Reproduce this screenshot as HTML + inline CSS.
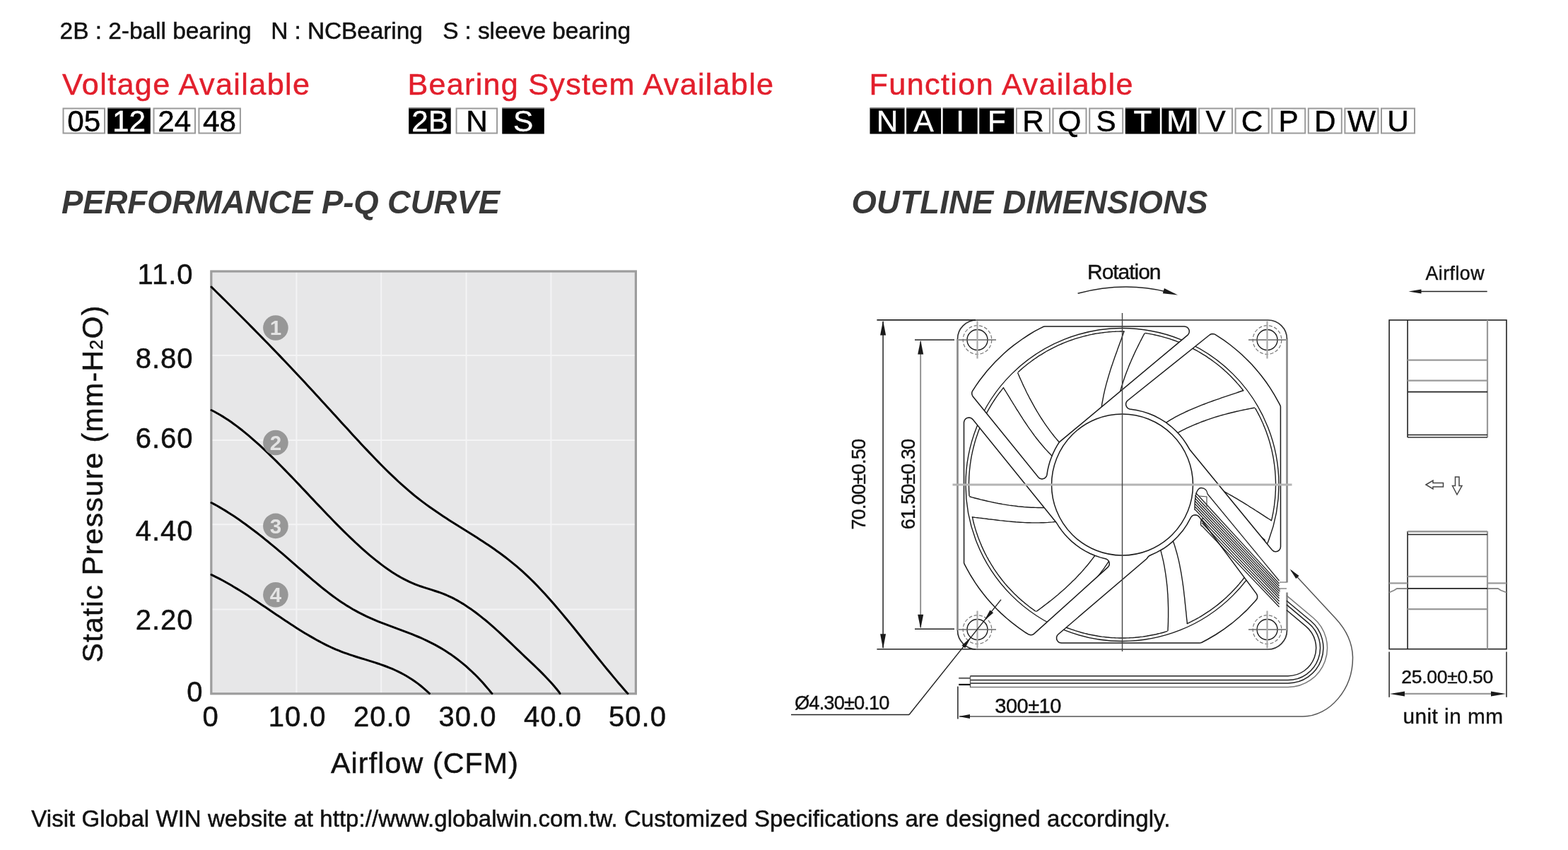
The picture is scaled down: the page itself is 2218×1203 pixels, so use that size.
<!DOCTYPE html>
<html><head><meta charset="utf-8"><title>Fan spec</title>
<style>
html,body{margin:0;padding:0;background:#fff;}
body{width:2218px;height:1203px;overflow:hidden;}
svg{display:block;}
text{font-family:"Liberation Sans", Arial, Helvetica, sans-serif;}
text.w{stroke:currentColor;}
</style></head><body>
<svg width="2218" height="1203" viewBox="0 0 2218 1203">
<rect width="2218" height="1203" fill="#fff"/>
<text x="84.6" y="54.7" font-size="33.5" fill="#111" text-anchor="start" font-weight="normal" font-style="normal" textLength="271" lengthAdjust="spacing" stroke="#111" stroke-width="0.5" >2B : 2-ball bearing</text>
<text x="383.3" y="54.7" font-size="33.5" fill="#111" text-anchor="start" font-weight="normal" font-style="normal" textLength="214.5" lengthAdjust="spacing" stroke="#111" stroke-width="0.5" >N : NCBearing</text>
<text x="626.2" y="54.7" font-size="33.5" fill="#111" text-anchor="start" font-weight="normal" font-style="normal" textLength="266" lengthAdjust="spacing" stroke="#111" stroke-width="0.5" >S : sleeve bearing</text>
<text x="88" y="134.3" font-size="43.2" fill="#e21f2c" text-anchor="start" font-weight="normal" font-style="normal" textLength="350" lengthAdjust="spacing" stroke="#e21f2c" stroke-width="0.5" >Voltage Available</text>
<text x="576.5" y="134.3" font-size="43.2" fill="#e21f2c" text-anchor="start" font-weight="normal" font-style="normal" textLength="517.5" lengthAdjust="spacing" stroke="#e21f2c" stroke-width="0.5" >Bearing System Available</text>
<text x="1229.5" y="134.3" font-size="43.2" fill="#e21f2c" text-anchor="start" font-weight="normal" font-style="normal" textLength="373" lengthAdjust="spacing" stroke="#e21f2c" stroke-width="0.5" >Function Available</text>
<rect x="89.5" y="153.5" width="58.5" height="35" fill="#fff" stroke="#9a9a9a" stroke-width="2"/>
<text x="118.8" y="185.5" font-size="42.3" fill="#000" stroke="#000" stroke-width="0.45" text-anchor="middle">05</text>
<rect x="152.3" y="152.5" width="60.5" height="37" fill="#000"/>
<line x1="152.3" y1="153.1" x2="212.8" y2="153.1" stroke="#888" stroke-width="1.2"/>
<text x="182.6" y="185.5" font-size="42.3" fill="#fff" stroke="#fff" stroke-width="0.45" text-anchor="middle">12</text>
<rect x="217.5" y="153.5" width="58.5" height="35" fill="#fff" stroke="#9a9a9a" stroke-width="2"/>
<text x="246.8" y="185.5" font-size="42.3" fill="#000" stroke="#000" stroke-width="0.45" text-anchor="middle">24</text>
<rect x="281.4" y="153.5" width="58.5" height="35" fill="#fff" stroke="#9a9a9a" stroke-width="2"/>
<text x="310.6" y="185.5" font-size="42.3" fill="#000" stroke="#000" stroke-width="0.45" text-anchor="middle">48</text>
<rect x="578.2" y="152.5" width="59.5" height="37" fill="#000"/>
<line x1="578.2" y1="153.1" x2="637.7" y2="153.1" stroke="#888" stroke-width="1.2"/>
<text x="608.0" y="185.5" font-size="42.3" fill="#fff" stroke="#fff" stroke-width="0.45" text-anchor="middle">2B</text>
<rect x="645.6" y="153.5" width="57.5" height="35" fill="#fff" stroke="#9a9a9a" stroke-width="2"/>
<text x="674.4" y="185.5" font-size="42.3" fill="#000" stroke="#000" stroke-width="0.45" text-anchor="middle">N</text>
<rect x="710.3" y="152.5" width="59.5" height="37" fill="#000"/>
<line x1="710.3" y1="153.1" x2="769.8" y2="153.1" stroke="#888" stroke-width="1.2"/>
<text x="740.0" y="185.5" font-size="42.3" fill="#fff" stroke="#fff" stroke-width="0.45" text-anchor="middle">S</text>
<rect x="1230.5" y="152.5" width="49" height="37" fill="#000"/>
<line x1="1230.5" y1="153.1" x2="1279.5" y2="153.1" stroke="#888" stroke-width="1.2"/>
<text x="1255.0" y="185.5" font-size="42.3" fill="#fff" stroke="#fff" stroke-width="0.45" text-anchor="middle">N</text>
<rect x="1282.1" y="152.5" width="49" height="37" fill="#000"/>
<line x1="1282.1" y1="153.1" x2="1331.1" y2="153.1" stroke="#888" stroke-width="1.2"/>
<text x="1306.6" y="185.5" font-size="42.3" fill="#fff" stroke="#fff" stroke-width="0.45" text-anchor="middle">A</text>
<rect x="1333.7" y="152.5" width="49" height="37" fill="#000"/>
<line x1="1333.7" y1="153.1" x2="1382.7" y2="153.1" stroke="#888" stroke-width="1.2"/>
<text x="1358.2" y="185.5" font-size="42.3" fill="#fff" stroke="#fff" stroke-width="0.45" text-anchor="middle">I</text>
<rect x="1385.3" y="152.5" width="49" height="37" fill="#000"/>
<line x1="1385.3" y1="153.1" x2="1434.3" y2="153.1" stroke="#888" stroke-width="1.2"/>
<text x="1409.8" y="185.5" font-size="42.3" fill="#fff" stroke="#fff" stroke-width="0.45" text-anchor="middle">F</text>
<rect x="1437.9" y="153.5" width="47" height="35" fill="#fff" stroke="#9a9a9a" stroke-width="2"/>
<text x="1461.4" y="185.5" font-size="42.3" fill="#000" stroke="#000" stroke-width="0.45" text-anchor="middle">R</text>
<rect x="1489.5" y="153.5" width="47" height="35" fill="#fff" stroke="#9a9a9a" stroke-width="2"/>
<text x="1513.0" y="185.5" font-size="42.3" fill="#000" stroke="#000" stroke-width="0.45" text-anchor="middle">Q</text>
<rect x="1541.2" y="153.5" width="47" height="35" fill="#fff" stroke="#9a9a9a" stroke-width="2"/>
<text x="1564.7" y="185.5" font-size="42.3" fill="#000" stroke="#000" stroke-width="0.45" text-anchor="middle">S</text>
<rect x="1591.8" y="152.5" width="49" height="37" fill="#000"/>
<line x1="1591.8" y1="153.1" x2="1640.8" y2="153.1" stroke="#888" stroke-width="1.2"/>
<text x="1616.3" y="185.5" font-size="42.3" fill="#fff" stroke="#fff" stroke-width="0.45" text-anchor="middle">T</text>
<rect x="1643.4" y="152.5" width="49" height="37" fill="#000"/>
<line x1="1643.4" y1="153.1" x2="1692.4" y2="153.1" stroke="#888" stroke-width="1.2"/>
<text x="1667.9" y="185.5" font-size="42.3" fill="#fff" stroke="#fff" stroke-width="0.45" text-anchor="middle">M</text>
<rect x="1696.0" y="153.5" width="47" height="35" fill="#fff" stroke="#9a9a9a" stroke-width="2"/>
<text x="1719.5" y="185.5" font-size="42.3" fill="#000" stroke="#000" stroke-width="0.45" text-anchor="middle">V</text>
<rect x="1747.6" y="153.5" width="47" height="35" fill="#fff" stroke="#9a9a9a" stroke-width="2"/>
<text x="1771.1" y="185.5" font-size="42.3" fill="#000" stroke="#000" stroke-width="0.45" text-anchor="middle">C</text>
<rect x="1799.2" y="153.5" width="47" height="35" fill="#fff" stroke="#9a9a9a" stroke-width="2"/>
<text x="1822.7" y="185.5" font-size="42.3" fill="#000" stroke="#000" stroke-width="0.45" text-anchor="middle">P</text>
<rect x="1850.8" y="153.5" width="47" height="35" fill="#fff" stroke="#9a9a9a" stroke-width="2"/>
<text x="1874.3" y="185.5" font-size="42.3" fill="#000" stroke="#000" stroke-width="0.45" text-anchor="middle">D</text>
<rect x="1902.4" y="153.5" width="47" height="35" fill="#fff" stroke="#9a9a9a" stroke-width="2"/>
<text x="1925.9" y="185.5" font-size="42.3" fill="#000" stroke="#000" stroke-width="0.45" text-anchor="middle">W</text>
<rect x="1954.0" y="153.5" width="47" height="35" fill="#fff" stroke="#9a9a9a" stroke-width="2"/>
<text x="1977.5" y="185.5" font-size="42.3" fill="#000" stroke="#000" stroke-width="0.45" text-anchor="middle">U</text>
<text x="87" y="301.6" font-size="45.5" fill="#383838" text-anchor="start" font-weight="bold" font-style="italic" textLength="620" lengthAdjust="spacing" >PERFORMANCE P-Q CURVE</text>
<text x="1204.5" y="301.8" font-size="45.5" fill="#383838" text-anchor="start" font-weight="bold" font-style="italic" textLength="504" lengthAdjust="spacing" >OUTLINE DIMENSIONS</text>
<rect x="298.8" y="384.0" width="600.5999999999999" height="597.8" fill="#e7e7e8"/>
<line x1="419.4" y1="384.0" x2="419.4" y2="981.8" stroke="#f4f4f5" stroke-width="2"/>
<line x1="539.2" y1="384.0" x2="539.2" y2="981.8" stroke="#f4f4f5" stroke-width="2"/>
<line x1="659.6" y1="384.0" x2="659.6" y2="981.8" stroke="#f4f4f5" stroke-width="2"/>
<line x1="779.4" y1="384.0" x2="779.4" y2="981.8" stroke="#f4f4f5" stroke-width="2"/>
<line x1="298.8" y1="503.1" x2="899.4" y2="503.1" stroke="#f4f4f5" stroke-width="2"/>
<line x1="298.8" y1="623.0" x2="899.4" y2="623.0" stroke="#f4f4f5" stroke-width="2"/>
<line x1="298.8" y1="742.2" x2="899.4" y2="742.2" stroke="#f4f4f5" stroke-width="2"/>
<line x1="298.8" y1="862.6" x2="899.4" y2="862.6" stroke="#f4f4f5" stroke-width="2"/>
<rect x="298.8" y="384.0" width="600.5999999999999" height="597.8" fill="none" stroke="#9d9d9d" stroke-width="3.2"/>
<path d="M299.0,406.1 L303.0,410.0 L307.0,414.0 L311.0,417.9 L315.0,421.9 L319.0,425.8 L323.0,429.8 L327.0,433.8 L331.0,437.8 L335.0,441.8 L339.0,445.8 L343.0,449.8 L347.0,453.8 L351.0,457.8 L355.0,461.9 L359.0,465.9 L363.0,470.0 L367.0,474.0 L371.0,478.1 L375.0,482.2 L379.0,486.3 L383.0,490.5 L387.0,494.6 L391.0,498.8 L395.0,502.9 L399.0,507.1 L403.0,511.3 L407.0,515.5 L411.0,519.7 L415.0,524.0 L419.0,528.3 L423.0,532.5 L427.0,536.8 L431.0,541.1 L435.0,545.4 L439.0,549.8 L443.0,554.1 L447.0,558.4 L451.0,562.8 L455.0,567.2 L459.0,571.5 L463.0,575.9 L467.0,580.3 L471.0,584.7 L475.0,589.1 L479.0,593.5 L483.0,597.9 L487.0,602.2 L491.0,606.6 L495.0,611.0 L499.0,615.4 L503.0,619.7 L507.0,624.1 L511.0,628.4 L515.0,632.7 L519.0,636.9 L523.0,641.1 L527.0,645.3 L531.0,649.5 L535.0,653.6 L539.0,657.7 L543.0,661.7 L547.0,665.7 L551.0,669.6 L555.0,673.4 L559.0,677.2 L563.0,681.0 L567.0,684.6 L571.0,688.2 L575.0,691.7 L579.0,695.2 L583.0,698.5 L587.0,701.8 L591.0,705.0 L595.0,708.1 L599.0,711.1 L603.0,714.1 L607.0,717.0 L611.0,719.8 L615.0,722.6 L619.0,725.3 L623.0,728.0 L627.0,730.7 L631.0,733.3 L635.0,735.9 L639.0,738.4 L643.0,741.0 L647.0,743.5 L651.0,746.0 L655.0,748.5 L659.0,751.0 L663.0,753.5 L667.0,756.0 L671.0,758.5 L675.0,761.1 L679.0,763.7 L683.0,766.3 L687.0,768.9 L691.0,771.6 L695.0,774.3 L699.0,777.1 L703.0,779.9 L707.0,782.8 L711.0,785.8 L715.0,788.8 L719.0,791.9 L723.0,795.1 L727.0,798.3 L731.0,801.7 L735.0,805.1 L739.0,808.7 L743.0,812.3 L747.0,816.1 L751.0,820.0 L755.0,823.9 L759.0,828.0 L763.0,832.2 L767.0,836.5 L771.0,840.8 L775.0,845.2 L779.0,849.7 L783.0,854.3 L787.0,858.9 L791.0,863.6 L795.0,868.4 L799.0,873.2 L803.0,878.0 L807.0,882.9 L811.0,887.8 L815.0,892.8 L819.0,897.7 L823.0,902.7 L827.0,907.7 L831.0,912.7 L835.0,917.7 L839.0,922.7 L843.0,927.7 L847.0,932.7 L851.0,937.6 L855.0,942.6 L859.0,947.5 L863.0,952.3 L867.0,957.1 L871.0,961.9 L875.0,966.7 L879.0,971.3 L883.0,975.9 L887.0,980.5 L888.0,981.5" fill="none" stroke="#000" stroke-width="3" stroke-linejoin="round" stroke-linecap="round"/>
<path d="M299.0,580.5 L303.0,582.5 L307.0,584.7 L311.0,587.0 L315.0,589.4 L319.0,591.9 L323.0,594.6 L327.0,597.3 L331.0,600.2 L335.0,603.1 L339.0,606.2 L343.0,609.3 L347.0,612.6 L351.0,615.9 L355.0,619.3 L359.0,622.8 L363.0,626.3 L367.0,629.9 L371.0,633.6 L375.0,637.4 L379.0,641.2 L383.0,645.1 L387.0,649.0 L391.0,652.9 L395.0,657.0 L399.0,661.0 L403.0,665.1 L407.0,669.2 L411.0,673.4 L415.0,677.5 L419.0,681.7 L423.0,685.9 L427.0,690.2 L431.0,694.4 L435.0,698.6 L439.0,702.9 L443.0,707.1 L447.0,711.4 L451.0,715.6 L455.0,719.8 L459.0,724.0 L463.0,728.2 L467.0,732.3 L471.0,736.5 L475.0,740.6 L479.0,744.6 L483.0,748.6 L487.0,752.6 L491.0,756.5 L495.0,760.4 L499.0,764.2 L503.0,768.0 L507.0,771.7 L511.0,775.3 L515.0,778.9 L519.0,782.4 L523.0,785.8 L527.0,789.1 L531.0,792.4 L535.0,795.5 L539.0,798.6 L543.0,801.6 L547.0,804.5 L551.0,807.2 L555.0,809.9 L559.0,812.4 L563.0,814.9 L567.0,817.2 L571.0,819.4 L575.0,821.4 L579.0,823.4 L583.0,825.2 L587.0,826.8 L591.0,828.3 L595.0,829.8 L599.0,831.1 L603.0,832.4 L607.0,833.6 L611.0,834.9 L615.0,836.2 L619.0,837.5 L623.0,838.9 L627.0,840.4 L631.0,842.0 L635.0,843.8 L639.0,845.7 L643.0,847.7 L647.0,849.9 L651.0,852.2 L655.0,854.6 L659.0,857.2 L663.0,859.9 L667.0,862.6 L671.0,865.5 L675.0,868.5 L679.0,871.6 L683.0,874.8 L687.0,878.0 L691.0,881.4 L695.0,884.9 L699.0,888.4 L703.0,892.0 L707.0,895.6 L711.0,899.4 L715.0,903.1 L719.0,906.9 L723.0,910.7 L727.0,914.5 L731.0,918.4 L735.0,922.2 L739.0,926.0 L743.0,929.8 L747.0,933.6 L751.0,937.4 L755.0,941.2 L759.0,945.0 L763.0,948.9 L767.0,952.9 L771.0,957.0 L775.0,961.2 L779.0,965.5 L783.0,970.1 L787.0,974.8 L791.0,979.8 L792.0,981.5" fill="none" stroke="#000" stroke-width="3" stroke-linejoin="round" stroke-linecap="round"/>
<path d="M299.0,711.5 L303.0,713.6 L307.0,715.8 L311.0,718.1 L315.0,720.5 L319.0,722.9 L323.0,725.4 L327.0,728.0 L331.0,730.6 L335.0,733.3 L339.0,736.1 L343.0,738.9 L347.0,741.7 L351.0,744.7 L355.0,747.7 L359.0,750.7 L363.0,753.8 L367.0,756.9 L371.0,760.0 L375.0,763.3 L379.0,766.5 L383.0,769.8 L387.0,773.1 L391.0,776.4 L395.0,779.8 L399.0,783.2 L403.0,786.6 L407.0,790.1 L411.0,793.6 L415.0,797.1 L419.0,800.6 L423.0,804.1 L427.0,807.5 L431.0,811.0 L435.0,814.5 L439.0,817.9 L443.0,821.3 L447.0,824.7 L451.0,828.0 L455.0,831.3 L459.0,834.5 L463.0,837.6 L467.0,840.7 L471.0,843.7 L475.0,846.6 L479.0,849.5 L483.0,852.2 L487.0,854.8 L491.0,857.4 L495.0,859.8 L499.0,862.2 L503.0,864.4 L507.0,866.6 L511.0,868.7 L515.0,870.7 L519.0,872.6 L523.0,874.4 L527.0,876.2 L531.0,877.9 L535.0,879.6 L539.0,881.2 L543.0,882.7 L547.0,884.2 L551.0,885.7 L555.0,887.2 L559.0,888.7 L563.0,890.2 L567.0,891.6 L571.0,893.1 L575.0,894.6 L579.0,896.2 L583.0,897.7 L587.0,899.4 L591.0,901.0 L595.0,902.7 L599.0,904.5 L603.0,906.4 L607.0,908.3 L611.0,910.3 L615.0,912.4 L619.0,914.6 L623.0,916.9 L627.0,919.3 L631.0,921.8 L635.0,924.4 L639.0,927.1 L643.0,930.0 L647.0,933.0 L651.0,936.1 L655.0,939.3 L659.0,942.7 L663.0,946.3 L667.0,950.0 L671.0,953.8 L675.0,957.8 L679.0,962.0 L683.0,966.3 L687.0,970.9 L691.0,975.6 L695.0,980.5 L696.0,981.5" fill="none" stroke="#000" stroke-width="3" stroke-linejoin="round" stroke-linecap="round"/>
<path d="M299.0,813.4 L303.0,815.4 L307.0,817.3 L311.0,819.4 L315.0,821.5 L319.0,823.7 L323.0,826.0 L327.0,828.3 L331.0,830.7 L335.0,833.1 L339.0,835.5 L343.0,838.0 L347.0,840.6 L351.0,843.1 L355.0,845.7 L359.0,848.4 L363.0,851.0 L367.0,853.7 L371.0,856.4 L375.0,859.1 L379.0,861.8 L383.0,864.5 L387.0,867.2 L391.0,869.9 L395.0,872.6 L399.0,875.3 L403.0,877.9 L407.0,880.6 L411.0,883.2 L415.0,885.8 L419.0,888.4 L423.0,890.9 L427.0,893.4 L431.0,895.9 L435.0,898.3 L439.0,900.6 L443.0,902.9 L447.0,905.2 L451.0,907.4 L455.0,909.5 L459.0,911.6 L463.0,913.6 L467.0,915.5 L471.0,917.3 L475.0,919.1 L479.0,920.7 L483.0,922.3 L487.0,923.8 L491.0,925.2 L495.0,926.6 L499.0,927.9 L503.0,929.2 L507.0,930.5 L511.0,931.7 L515.0,932.9 L519.0,934.1 L523.0,935.4 L527.0,936.6 L531.0,937.9 L535.0,939.2 L539.0,940.6 L543.0,942.0 L547.0,943.5 L551.0,945.1 L555.0,946.7 L559.0,948.5 L563.0,950.4 L567.0,952.4 L571.0,954.5 L575.0,956.8 L579.0,959.2 L583.0,961.7 L587.0,964.5 L591.0,967.4 L595.0,970.5 L599.0,973.8 L603.0,977.3 L607.0,981.0 L607.5,981.5" fill="none" stroke="#000" stroke-width="3" stroke-linejoin="round" stroke-linecap="round"/>
<circle cx="389.9" cy="464" r="17.8" fill="#979797"/>
<text x="389.9" y="474.3" font-size="29.5" font-weight="bold" fill="#e4e4e4" text-anchor="middle">1</text>
<circle cx="389.9" cy="626.5" r="17.8" fill="#979797"/>
<text x="389.9" y="636.8" font-size="29.5" font-weight="bold" fill="#e4e4e4" text-anchor="middle">2</text>
<circle cx="389.9" cy="744.4" r="17.8" fill="#979797"/>
<text x="389.9" y="754.6999999999999" font-size="29.5" font-weight="bold" fill="#e4e4e4" text-anchor="middle">3</text>
<circle cx="389.9" cy="841.8" r="17.8" fill="#979797"/>
<text x="389.9" y="852.0999999999999" font-size="29.5" font-weight="bold" fill="#e4e4e4" text-anchor="middle">4</text>
<text x="273.5" y="401.6" font-size="40" fill="#111" text-anchor="end" font-weight="normal" font-style="normal" stroke="#111" stroke-width="0.5" letter-spacing="1">11.0</text>
<text x="273.5" y="521.4" font-size="40" fill="#111" text-anchor="end" font-weight="normal" font-style="normal" stroke="#111" stroke-width="0.5" letter-spacing="1">8.80</text>
<text x="273.5" y="634.0999999999999" font-size="40" fill="#111" text-anchor="end" font-weight="normal" font-style="normal" stroke="#111" stroke-width="0.5" letter-spacing="1">6.60</text>
<text x="273.5" y="764.9" font-size="40" fill="#111" text-anchor="end" font-weight="normal" font-style="normal" stroke="#111" stroke-width="0.5" letter-spacing="1">4.40</text>
<text x="273.5" y="891.0999999999999" font-size="40" fill="#111" text-anchor="end" font-weight="normal" font-style="normal" stroke="#111" stroke-width="0.5" letter-spacing="1">2.20</text>
<text x="286.5" y="993.0" font-size="40" fill="#111" text-anchor="end" font-weight="normal" font-style="normal" stroke="#111" stroke-width="0.5" >0</text>
<text x="298" y="1027.9" font-size="40" fill="#111" text-anchor="middle" font-weight="normal" font-style="normal" stroke="#111" stroke-width="0.5" letter-spacing="1">0</text>
<text x="420.7" y="1027.9" font-size="40" fill="#111" text-anchor="middle" font-weight="normal" font-style="normal" stroke="#111" stroke-width="0.5" letter-spacing="1">10.0</text>
<text x="540.9" y="1027.9" font-size="40" fill="#111" text-anchor="middle" font-weight="normal" font-style="normal" stroke="#111" stroke-width="0.5" letter-spacing="1">20.0</text>
<text x="661.5" y="1027.9" font-size="40" fill="#111" text-anchor="middle" font-weight="normal" font-style="normal" stroke="#111" stroke-width="0.5" letter-spacing="1">30.0</text>
<text x="782" y="1027.9" font-size="40" fill="#111" text-anchor="middle" font-weight="normal" font-style="normal" stroke="#111" stroke-width="0.5" letter-spacing="1">40.0</text>
<text x="902" y="1027.9" font-size="40" fill="#111" text-anchor="middle" font-weight="normal" font-style="normal" stroke="#111" stroke-width="0.5" letter-spacing="1">50.0</text>
<text x="468" y="1094.1" font-size="41.2" fill="#111" text-anchor="start" font-weight="normal" font-style="normal" textLength="265" lengthAdjust="spacing" stroke="#111" stroke-width="0.5" >Airflow (CFM)</text>
<text transform="translate(144.6,937.5) rotate(-90)" font-size="41" fill="#111" stroke="#111" stroke-width="0.5" textLength="505" lengthAdjust="spacing">Static Pressure (mm-H<tspan font-size="25">2</tspan>O)</text>
<text x="44.3" y="1170.2" font-size="33" fill="#111" text-anchor="start" font-weight="normal" font-style="normal" textLength="1611" lengthAdjust="spacing" stroke="#111" stroke-width="0.5" >Visit Global WIN website at http://www.globalwin.com.tw. Customized Specifications are designed accordingly.</text>
<clipPath id="wclip"><path d="M1595.2,566.7 L1594.0,567.9 L1593.2,569.3 L1592.7,570.7 L1592.6,572.5 L1592.9,574.1 L1593.6,575.7 L1594.6,577.0 L1595.9,578.1 L1598.1,579.0 L1607.8,580.4 L1616.8,582.6 L1624.9,585.2 L1632.9,588.5 L1641.1,592.8 L1648.9,597.7 L1656.2,603.3 L1663.0,609.5 L1668.5,615.3 L1673.8,621.9 L1678.3,628.5 L1682.9,636.2 L1799.3,778.3 L1801.5,780.0 L1802.8,780.5 L1804.4,780.7 L1807.1,780.2 L1809.5,778.6 L1811.0,776.3 L1811.5,773.7 L1811.4,575.4 L1810.9,573.8 L1809.4,570.9 L1802.7,558.8 L1797.0,549.7 L1791.0,540.8 L1784.6,532.2 L1777.8,523.9 L1770.7,515.8 L1763.2,508.2 L1756.5,501.8 L1748.4,494.7 L1740.1,488.0 L1731.5,481.6 L1718.5,473.1 L1715.8,472.4 L1713.1,472.8 L1711.0,474.0 L1595.2,566.7 Z M1624.3,787.8 L1622.1,790.8 L1496.7,897.9 L1495.1,900.1 L1494.5,902.7 L1494.9,905.4 L1496.4,907.8 L1497.6,908.8 L1498.8,909.5 L1501.5,910.0 L1696.8,910.0 L1698.4,909.8 L1700.0,909.2 L1708.0,905.0 L1720.0,898.0 L1731.5,890.4 L1742.5,882.2 L1753.1,873.3 L1763.2,863.9 L1774.8,851.6 L1777.2,848.8 L1778.3,846.9 L1778.6,845.2 L1778.6,843.5 L1778.1,841.8 L1777.3,840.3 L1696.3,731.6 L1694.8,730.1 L1693.0,729.2 L1691.0,728.7 L1689.0,728.9 L1687.1,729.7 L1685.5,731.0 L1684.5,732.3 L1679.0,742.4 L1673.1,751.1 L1665.8,759.6 L1657.7,767.4 L1651.6,772.3 L1645.6,776.5 L1636.4,781.7 L1625.9,786.5 L1624.3,787.8 Z M1375.8,553.0 L1374.9,555.0 L1374.7,557.3 L1375.2,559.3 L1376.3,561.2 L1468.8,675.5 L1470.3,676.8 L1472.0,677.6 L1474.0,677.9 L1475.8,677.6 L1477.3,677.0 L1478.5,676.2 L1479.6,675.0 L1480.4,673.7 L1480.9,672.2 L1481.9,665.7 L1483.4,659.3 L1485.0,653.6 L1487.0,647.9 L1489.5,641.9 L1492.4,635.9 L1495.6,630.2 L1498.6,625.6 L1679.8,474.4 L1681.1,472.9 L1682.0,471.0 L1682.3,469.3 L1682.1,467.2 L1681.1,465.1 L1679.5,463.4 L1677.6,462.4 L1675.3,462.0 L1478.2,462.0 L1476.2,462.3 L1471.0,464.8 L1462.9,469.2 L1455.0,474.0 L1447.3,479.0 L1433.7,488.9 L1426.5,494.7 L1419.6,500.7 L1407.5,512.5 L1396.2,525.1 L1385.8,538.3 L1380.5,545.8 L1375.8,553.0 Z M1363.5,597.7 L1363.6,796.7 L1364.1,798.2 L1367.8,805.2 L1373.1,814.5 L1379.6,824.9 L1384.9,832.5 L1390.4,839.8 L1396.2,847.0 L1403.3,855.0 L1409.7,861.7 L1416.2,868.1 L1424.2,875.3 L1431.3,881.2 L1441.1,888.6 L1451.1,895.5 L1455.3,898.1 L1458.1,898.7 L1460.8,898.2 L1462.8,896.9 L1567.0,802.9 L1568.7,800.6 L1569.1,799.3 L1569.3,797.7 L1569.1,796.0 L1568.5,794.4 L1567.4,792.9 L1566.1,791.8 L1564.5,791.0 L1556.3,788.9 L1548.8,786.3 L1542.1,783.5 L1535.1,779.9 L1528.4,775.8 L1521.9,771.2 L1515.8,766.1 L1510.1,760.6 L1505.7,755.7 L1502.0,751.1 L1498.5,746.3 L1494.3,739.7 L1376.0,593.6 L1374.9,592.6 L1373.6,591.7 L1372.2,591.2 L1370.6,591.0 L1368.1,591.4 L1365.8,592.9 L1364.2,595.1 L1363.5,597.7 Z"/></clipPath>
<clipPath id="bclip"><path d="M1594.0,567.9 L1593.2,569.3 L1592.7,570.7 L1592.6,572.5 L1592.9,574.1 L1593.6,575.7 L1594.6,577.0 L1595.9,578.1 L1598.1,579.0 L1607.8,580.4 L1616.8,582.6 L1624.9,585.2 L1632.9,588.5 L1641.1,592.8 L1648.9,597.7 L1656.2,603.3 L1663.0,609.5 L1668.5,615.3 L1673.8,621.9 L1678.3,628.5 L1682.9,636.2 L1789.2,766.0 L1789.5,765.3 L1790.0,764.1 L1790.4,762.9 L1790.9,761.6 L1791.4,760.4 L1791.8,759.1 L1792.3,757.9 L1792.7,756.6 L1793.1,755.3 L1793.5,754.1 L1794.0,752.8 L1794.4,751.5 L1794.8,750.3 L1795.2,749.0 L1795.5,747.7 L1795.9,746.4 L1796.3,745.2 L1796.6,743.9 L1797.0,742.6 L1797.3,741.3 L1797.7,740.0 L1798.0,738.7 L1798.3,737.4 L1798.6,736.1 L1798.9,734.8 L1799.2,733.5 L1799.5,732.2 L1799.8,730.9 L1800.1,729.6 L1800.3,728.3 L1800.6,727.0 L1800.8,725.7 L1801.1,724.4 L1801.3,723.1 L1801.5,721.8 L1801.7,720.5 L1802.0,719.2 L1802.2,717.8 L1802.3,716.5 L1802.5,715.2 L1802.7,713.9 L1802.9,712.6 L1803.0,711.2 L1803.2,709.9 L1803.3,708.6 L1803.5,707.3 L1803.6,705.9 L1803.7,704.6 L1803.8,703.3 L1803.9,702.0 L1804.0,700.6 L1804.1,699.3 L1804.2,698.0 L1804.2,696.6 L1804.3,695.3 L1804.4,694.0 L1804.4,692.7 L1804.4,691.3 L1804.5,690.0 L1804.5,688.7 L1804.5,687.3 L1804.5,686.0 L1804.5,684.7 L1804.5,683.3 L1804.5,682.0 L1804.4,680.7 L1804.4,679.3 L1804.4,678.0 L1804.3,676.7 L1804.2,675.4 L1804.2,674.0 L1804.1,672.7 L1804.0,671.4 L1803.9,670.0 L1803.8,668.7 L1803.7,667.4 L1803.6,666.1 L1803.5,664.7 L1803.3,663.4 L1803.2,662.1 L1803.0,660.8 L1802.9,659.4 L1802.7,658.1 L1802.5,656.8 L1802.3,655.5 L1802.2,654.2 L1802.0,652.8 L1801.7,651.5 L1801.5,650.2 L1801.3,648.9 L1801.1,647.6 L1800.8,646.3 L1800.6,645.0 L1800.3,643.7 L1800.1,642.4 L1799.8,641.1 L1799.5,639.8 L1799.2,638.5 L1798.9,637.2 L1798.6,635.9 L1798.3,634.6 L1798.0,633.3 L1797.7,632.0 L1797.3,630.7 L1797.0,629.4 L1796.6,628.1 L1796.3,626.8 L1795.9,625.6 L1795.5,624.3 L1795.2,623.0 L1794.8,621.7 L1794.4,620.5 L1794.0,619.2 L1793.5,617.9 L1793.1,616.7 L1792.7,615.4 L1792.3,614.1 L1791.8,612.9 L1791.4,611.6 L1790.9,610.4 L1790.4,609.1 L1790.0,607.9 L1789.5,606.7 L1789.0,605.4 L1788.5,604.2 L1788.0,603.0 L1787.5,601.7 L1786.9,600.5 L1786.4,599.3 L1785.9,598.1 L1785.3,596.8 L1784.8,595.6 L1784.2,594.4 L1783.7,593.2 L1783.1,592.0 L1782.5,590.8 L1781.9,589.6 L1781.3,588.4 L1780.7,587.2 L1780.1,586.1 L1779.5,584.9 L1778.9,583.7 L1778.2,582.5 L1777.6,581.4 L1777.0,580.2 L1776.3,579.0 L1775.6,577.9 L1775.0,576.7 L1774.3,575.6 L1773.6,574.4 L1772.9,573.3 L1772.2,572.2 L1771.5,571.0 L1770.8,569.9 L1770.1,568.8 L1769.4,567.7 L1768.7,566.6 L1767.9,565.4 L1767.2,564.3 L1766.4,563.2 L1765.7,562.1 L1764.9,561.0 L1764.1,560.0 L1763.4,558.9 L1762.6,557.8 L1761.8,556.7 L1761.0,555.7 L1760.2,554.6 L1759.4,553.5 L1758.6,552.5 L1757.7,551.4 L1756.9,550.4 L1756.1,549.4 L1755.2,548.3 L1754.4,547.3 L1753.5,546.3 L1752.7,545.3 L1751.8,544.3 L1750.9,543.3 L1750.1,542.3 L1749.2,541.3 L1748.3,540.3 L1747.4,539.3 L1746.5,538.3 L1745.6,537.3 L1744.7,536.4 L1743.7,535.4 L1742.8,534.5 L1741.9,533.5 L1740.9,532.6 L1740.0,531.6 L1739.0,530.7 L1738.1,529.8 L1737.1,528.8 L1736.2,527.9 L1735.2,527.0 L1734.2,526.1 L1733.2,525.2 L1732.2,524.3 L1731.2,523.4 L1730.2,522.6 L1729.2,521.7 L1728.2,520.8 L1727.2,520.0 L1726.2,519.1 L1725.2,518.3 L1724.1,517.4 L1723.1,516.6 L1722.1,515.8 L1721.0,514.9 L1720.0,514.1 L1718.9,513.3 L1717.8,512.5 L1716.8,511.7 L1715.7,510.9 L1714.6,510.1 L1713.5,509.4 L1712.5,508.6 L1711.4,507.8 L1710.3,507.1 L1709.2,506.3 L1708.1,505.6 L1706.9,504.8 L1705.8,504.1 L1704.7,503.4 L1703.6,502.7 L1702.5,502.0 L1701.3,501.3 L1700.2,500.6 L1699.1,499.9 L1697.9,499.2 L1696.8,498.5 L1695.6,497.9 L1694.5,497.2 L1693.3,496.5 L1692.1,495.9 L1691.0,495.3 L1689.8,494.6 L1688.6,494.0 L1687.4,493.4 L1687.0,493.2 L1595.2,566.7 L1594.0,567.9 Z M1622.1,790.8 L1508.3,888.0 L1509.4,888.5 L1510.6,888.9 L1511.9,889.4 L1513.1,889.9 L1514.4,890.3 L1515.6,890.8 L1516.9,891.2 L1518.2,891.6 L1519.4,892.0 L1520.7,892.5 L1522.0,892.9 L1523.2,893.3 L1524.5,893.7 L1525.8,894.0 L1527.1,894.4 L1528.3,894.8 L1529.6,895.1 L1530.9,895.5 L1532.2,895.8 L1533.5,896.2 L1534.8,896.5 L1536.1,896.8 L1537.4,897.1 L1538.7,897.4 L1540.0,897.7 L1541.3,898.0 L1542.6,898.3 L1543.9,898.6 L1545.2,898.8 L1546.5,899.1 L1547.8,899.3 L1549.1,899.6 L1550.4,899.8 L1551.7,900.0 L1553.0,900.2 L1554.3,900.5 L1555.7,900.7 L1557.0,900.8 L1558.3,901.0 L1559.6,901.2 L1560.9,901.4 L1562.3,901.5 L1563.6,901.7 L1564.9,901.8 L1566.2,902.0 L1567.6,902.1 L1568.9,902.2 L1570.2,902.3 L1571.5,902.4 L1572.9,902.5 L1574.2,902.6 L1575.5,902.7 L1576.9,902.7 L1578.2,902.8 L1579.5,902.9 L1580.8,902.9 L1582.2,902.9 L1583.5,903.0 L1584.8,903.0 L1586.2,903.0 L1587.5,903.0 L1588.8,903.0 L1590.2,903.0 L1591.5,903.0 L1592.8,902.9 L1594.2,902.9 L1595.5,902.9 L1596.8,902.8 L1598.1,902.7 L1599.5,902.7 L1600.8,902.6 L1602.1,902.5 L1603.5,902.4 L1604.8,902.3 L1606.1,902.2 L1607.4,902.1 L1608.8,902.0 L1610.1,901.8 L1611.4,901.7 L1612.7,901.5 L1614.1,901.4 L1615.4,901.2 L1616.7,901.0 L1618.0,900.8 L1619.3,900.7 L1620.7,900.5 L1622.0,900.2 L1623.3,900.0 L1624.6,899.8 L1625.9,899.6 L1627.2,899.3 L1628.5,899.1 L1629.8,898.8 L1631.1,898.6 L1632.4,898.3 L1633.7,898.0 L1635.0,897.7 L1636.3,897.4 L1637.6,897.1 L1638.9,896.8 L1640.2,896.5 L1641.5,896.2 L1642.8,895.8 L1644.1,895.5 L1645.4,895.1 L1646.7,894.8 L1647.9,894.4 L1649.2,894.0 L1650.5,893.7 L1651.8,893.3 L1653.0,892.9 L1654.3,892.5 L1655.6,892.0 L1656.8,891.6 L1658.1,891.2 L1659.4,890.8 L1660.6,890.3 L1661.9,889.9 L1663.1,889.4 L1664.4,888.9 L1665.6,888.5 L1666.8,888.0 L1668.1,887.5 L1669.3,887.0 L1670.5,886.5 L1671.8,886.0 L1673.0,885.4 L1674.2,884.9 L1675.4,884.4 L1676.7,883.8 L1677.9,883.3 L1679.1,882.7 L1680.3,882.2 L1681.5,881.6 L1682.7,881.0 L1683.9,880.4 L1685.1,879.8 L1686.3,879.2 L1687.4,878.6 L1688.6,878.0 L1689.8,877.4 L1691.0,876.7 L1692.1,876.1 L1693.3,875.5 L1694.5,874.8 L1695.6,874.1 L1696.8,873.5 L1697.9,872.8 L1699.1,872.1 L1700.2,871.4 L1701.3,870.7 L1702.5,870.0 L1703.6,869.3 L1704.7,868.6 L1705.8,867.9 L1706.9,867.2 L1708.1,866.4 L1709.2,865.7 L1710.3,864.9 L1711.4,864.2 L1712.5,863.4 L1713.5,862.6 L1714.6,861.9 L1715.7,861.1 L1716.8,860.3 L1717.8,859.5 L1718.9,858.7 L1720.0,857.9 L1721.0,857.1 L1722.1,856.2 L1723.1,855.4 L1724.1,854.6 L1725.2,853.7 L1726.2,852.9 L1727.2,852.0 L1728.2,851.2 L1729.2,850.3 L1730.2,849.4 L1731.2,848.6 L1732.2,847.7 L1733.2,846.8 L1734.2,845.9 L1735.2,845.0 L1736.2,844.1 L1737.1,843.2 L1738.1,842.2 L1739.0,841.3 L1740.0,840.4 L1740.9,839.4 L1741.9,838.5 L1742.8,837.5 L1743.7,836.6 L1744.7,835.6 L1745.6,834.7 L1746.5,833.7 L1747.4,832.7 L1748.3,831.7 L1749.2,830.7 L1750.1,829.7 L1750.9,828.7 L1751.8,827.7 L1752.7,826.7 L1753.5,825.7 L1754.4,824.7 L1755.2,823.7 L1756.1,822.6 L1756.9,821.6 L1757.7,820.6 L1758.6,819.5 L1759.4,818.5 L1760.2,817.4 L1760.2,817.4 L1696.3,731.6 L1694.8,730.1 L1693.0,729.2 L1691.0,728.7 L1689.0,728.9 L1687.1,729.7 L1685.5,731.0 L1684.5,732.3 L1679.0,742.4 L1673.1,751.1 L1665.8,759.6 L1657.7,767.4 L1651.6,772.3 L1645.6,776.5 L1636.4,781.7 L1625.9,786.5 L1624.3,787.8 L1622.1,790.8 Z M1468.8,675.5 L1470.3,676.8 L1472.0,677.6 L1474.0,677.9 L1475.8,677.6 L1477.3,677.0 L1478.5,676.2 L1479.6,675.0 L1480.4,673.7 L1480.9,672.2 L1481.9,665.7 L1483.4,659.3 L1485.0,653.6 L1487.0,647.9 L1489.5,641.9 L1492.4,635.9 L1495.6,630.2 L1498.6,625.6 L1667.8,484.4 L1666.8,484.0 L1665.6,483.5 L1664.4,483.1 L1663.1,482.6 L1661.9,482.1 L1660.6,481.7 L1659.4,481.2 L1658.1,480.8 L1656.8,480.4 L1655.6,480.0 L1654.3,479.5 L1653.0,479.1 L1651.8,478.7 L1650.5,478.3 L1649.2,478.0 L1647.9,477.6 L1646.7,477.2 L1645.4,476.9 L1644.1,476.5 L1642.8,476.2 L1641.5,475.8 L1640.2,475.5 L1638.9,475.2 L1637.6,474.9 L1636.3,474.6 L1635.0,474.3 L1633.7,474.0 L1632.4,473.7 L1631.1,473.4 L1629.8,473.2 L1628.5,472.9 L1627.2,472.7 L1625.9,472.4 L1624.6,472.2 L1623.3,472.0 L1622.0,471.8 L1620.7,471.5 L1619.3,471.3 L1618.0,471.2 L1616.7,471.0 L1615.4,470.8 L1614.1,470.6 L1612.7,470.5 L1611.4,470.3 L1610.1,470.2 L1608.8,470.0 L1607.4,469.9 L1606.1,469.8 L1604.8,469.7 L1603.5,469.6 L1602.1,469.5 L1600.8,469.4 L1599.5,469.3 L1598.1,469.3 L1596.8,469.2 L1595.5,469.1 L1594.2,469.1 L1592.8,469.1 L1591.5,469.0 L1590.2,469.0 L1588.8,469.0 L1587.5,469.0 L1586.2,469.0 L1584.8,469.0 L1583.5,469.0 L1582.2,469.1 L1580.8,469.1 L1579.5,469.1 L1578.2,469.2 L1576.9,469.3 L1575.5,469.3 L1574.2,469.4 L1572.9,469.5 L1571.5,469.6 L1570.2,469.7 L1568.9,469.8 L1567.6,469.9 L1566.2,470.0 L1564.9,470.2 L1563.6,470.3 L1562.3,470.5 L1560.9,470.6 L1559.6,470.8 L1558.3,471.0 L1557.0,471.2 L1555.7,471.3 L1554.3,471.5 L1553.0,471.8 L1551.7,472.0 L1550.4,472.2 L1549.1,472.4 L1547.8,472.7 L1546.5,472.9 L1545.2,473.2 L1543.9,473.4 L1542.6,473.7 L1541.3,474.0 L1540.0,474.3 L1538.7,474.6 L1537.4,474.9 L1536.1,475.2 L1534.8,475.5 L1533.5,475.8 L1532.2,476.2 L1530.9,476.5 L1529.6,476.9 L1528.3,477.2 L1527.1,477.6 L1525.8,478.0 L1524.5,478.3 L1523.2,478.7 L1522.0,479.1 L1520.7,479.5 L1519.4,480.0 L1518.2,480.4 L1516.9,480.8 L1515.6,481.2 L1514.4,481.7 L1513.1,482.1 L1511.9,482.6 L1510.6,483.1 L1509.4,483.5 L1508.2,484.0 L1506.9,484.5 L1505.7,485.0 L1504.5,485.5 L1503.2,486.0 L1502.0,486.6 L1500.8,487.1 L1499.6,487.6 L1498.3,488.2 L1497.1,488.7 L1495.9,489.3 L1494.7,489.8 L1493.5,490.4 L1492.3,491.0 L1491.1,491.6 L1489.9,492.2 L1488.7,492.8 L1487.6,493.4 L1486.4,494.0 L1485.2,494.6 L1484.0,495.3 L1482.9,495.9 L1481.7,496.5 L1480.5,497.2 L1479.4,497.9 L1478.2,498.5 L1477.1,499.2 L1475.9,499.9 L1474.8,500.6 L1473.7,501.3 L1472.5,502.0 L1471.4,502.7 L1470.3,503.4 L1469.2,504.1 L1468.1,504.8 L1466.9,505.6 L1465.8,506.3 L1464.7,507.1 L1463.6,507.8 L1462.5,508.6 L1461.5,509.4 L1460.4,510.1 L1459.3,510.9 L1458.2,511.7 L1457.2,512.5 L1456.1,513.3 L1455.0,514.1 L1454.0,514.9 L1452.9,515.8 L1451.9,516.6 L1450.9,517.4 L1449.8,518.3 L1448.8,519.1 L1447.8,520.0 L1446.8,520.8 L1445.8,521.7 L1444.8,522.6 L1443.8,523.4 L1442.8,524.3 L1441.8,525.2 L1440.8,526.1 L1439.8,527.0 L1438.8,527.9 L1437.9,528.8 L1436.9,529.8 L1436.0,530.7 L1435.0,531.6 L1434.1,532.6 L1433.1,533.5 L1432.2,534.5 L1431.3,535.4 L1430.3,536.4 L1429.4,537.3 L1428.5,538.3 L1427.6,539.3 L1426.7,540.3 L1425.8,541.3 L1424.9,542.3 L1424.1,543.3 L1423.2,544.3 L1422.3,545.3 L1421.5,546.3 L1420.6,547.3 L1419.8,548.3 L1418.9,549.4 L1418.1,550.4 L1417.3,551.4 L1416.4,552.5 L1415.6,553.5 L1414.8,554.6 L1414.0,555.7 L1413.2,556.7 L1412.4,557.8 L1411.6,558.9 L1410.9,560.0 L1410.1,561.0 L1409.3,562.1 L1408.6,563.2 L1407.8,564.3 L1407.1,565.4 L1406.3,566.6 L1405.6,567.7 L1404.9,568.8 L1404.2,569.9 L1403.5,571.0 L1402.8,572.2 L1402.1,573.3 L1401.4,574.4 L1400.7,575.6 L1400.0,576.7 L1399.4,577.9 L1398.7,579.0 L1398.0,580.2 L1397.4,581.4 L1396.8,582.5 L1396.1,583.7 L1395.5,584.9 L1395.5,584.9 L1468.8,675.5 Z M1567.0,802.9 L1568.7,800.6 L1569.1,799.3 L1569.3,797.7 L1569.1,796.0 L1568.5,794.4 L1567.4,792.9 L1566.1,791.8 L1564.5,791.0 L1556.3,788.9 L1548.8,786.3 L1542.1,783.5 L1535.1,779.9 L1528.4,775.8 L1521.9,771.2 L1515.8,766.1 L1510.1,760.6 L1505.7,755.7 L1502.0,751.1 L1498.5,746.3 L1494.3,739.7 L1385.8,605.8 L1385.5,606.7 L1385.0,607.9 L1384.6,609.1 L1384.1,610.4 L1383.6,611.6 L1383.2,612.9 L1382.7,614.1 L1382.3,615.4 L1381.9,616.7 L1381.5,617.9 L1381.0,619.2 L1380.6,620.5 L1380.2,621.7 L1379.8,623.0 L1379.5,624.3 L1379.1,625.6 L1378.7,626.8 L1378.4,628.1 L1378.0,629.4 L1377.7,630.7 L1377.3,632.0 L1377.0,633.3 L1376.7,634.6 L1376.4,635.9 L1376.1,637.2 L1375.8,638.5 L1375.5,639.8 L1375.2,641.1 L1374.9,642.4 L1374.7,643.7 L1374.4,645.0 L1374.2,646.3 L1373.9,647.6 L1373.7,648.9 L1373.5,650.2 L1373.3,651.5 L1373.0,652.8 L1372.8,654.2 L1372.7,655.5 L1372.5,656.8 L1372.3,658.1 L1372.1,659.4 L1372.0,660.8 L1371.8,662.1 L1371.7,663.4 L1371.5,664.7 L1371.4,666.1 L1371.3,667.4 L1371.2,668.7 L1371.1,670.0 L1371.0,671.4 L1370.9,672.7 L1370.8,674.0 L1370.8,675.4 L1370.7,676.7 L1370.6,678.0 L1370.6,679.3 L1370.6,680.7 L1370.5,682.0 L1370.5,683.3 L1370.5,684.7 L1370.5,686.0 L1370.5,687.3 L1370.5,688.7 L1370.5,690.0 L1370.6,691.3 L1370.6,692.7 L1370.6,694.0 L1370.7,695.3 L1370.8,696.6 L1370.8,698.0 L1370.9,699.3 L1371.0,700.6 L1371.1,702.0 L1371.2,703.3 L1371.3,704.6 L1371.4,705.9 L1371.5,707.3 L1371.7,708.6 L1371.8,709.9 L1372.0,711.2 L1372.1,712.6 L1372.3,713.9 L1372.5,715.2 L1372.7,716.5 L1372.8,717.8 L1373.0,719.2 L1373.3,720.5 L1373.5,721.8 L1373.7,723.1 L1373.9,724.4 L1374.2,725.7 L1374.4,727.0 L1374.7,728.3 L1374.9,729.6 L1375.2,730.9 L1375.5,732.2 L1375.8,733.5 L1376.1,734.8 L1376.4,736.1 L1376.7,737.4 L1377.0,738.7 L1377.3,740.0 L1377.7,741.3 L1378.0,742.6 L1378.4,743.9 L1378.7,745.2 L1379.1,746.4 L1379.5,747.7 L1379.8,749.0 L1380.2,750.3 L1380.6,751.5 L1381.0,752.8 L1381.5,754.1 L1381.9,755.3 L1382.3,756.6 L1382.7,757.9 L1383.2,759.1 L1383.6,760.4 L1384.1,761.6 L1384.6,762.9 L1385.0,764.1 L1385.5,765.3 L1386.0,766.6 L1386.5,767.8 L1387.0,769.0 L1387.5,770.3 L1388.1,771.5 L1388.6,772.7 L1389.1,773.9 L1389.7,775.2 L1390.2,776.4 L1390.8,777.6 L1391.3,778.8 L1391.9,780.0 L1392.5,781.2 L1393.1,782.4 L1393.7,783.6 L1394.3,784.8 L1394.9,785.9 L1395.5,787.1 L1396.1,788.3 L1396.8,789.5 L1397.4,790.6 L1398.0,791.8 L1398.7,793.0 L1399.4,794.1 L1400.0,795.3 L1400.7,796.4 L1401.4,797.6 L1402.1,798.7 L1402.8,799.8 L1403.5,801.0 L1404.2,802.1 L1404.9,803.2 L1405.6,804.3 L1406.3,805.4 L1407.1,806.6 L1407.8,807.7 L1408.6,808.8 L1409.3,809.9 L1410.1,811.0 L1410.9,812.0 L1411.6,813.1 L1412.4,814.2 L1413.2,815.3 L1414.0,816.3 L1414.8,817.4 L1415.6,818.5 L1416.4,819.5 L1417.3,820.6 L1418.1,821.6 L1418.9,822.6 L1419.8,823.7 L1420.6,824.7 L1421.5,825.7 L1422.3,826.7 L1423.2,827.7 L1424.1,828.7 L1424.9,829.7 L1425.8,830.7 L1426.7,831.7 L1427.6,832.7 L1428.5,833.7 L1429.4,834.7 L1430.3,835.6 L1431.3,836.6 L1432.2,837.5 L1433.1,838.5 L1434.1,839.4 L1435.0,840.4 L1436.0,841.3 L1436.9,842.2 L1437.9,843.2 L1438.8,844.1 L1439.8,845.0 L1440.8,845.9 L1441.8,846.8 L1442.8,847.7 L1443.8,848.6 L1444.8,849.4 L1445.8,850.3 L1446.8,851.2 L1447.8,852.0 L1448.8,852.9 L1449.8,853.7 L1450.9,854.6 L1451.9,855.4 L1452.9,856.2 L1454.0,857.1 L1455.0,857.9 L1456.1,858.7 L1457.2,859.5 L1458.2,860.3 L1459.3,861.1 L1460.4,861.9 L1461.5,862.6 L1462.5,863.4 L1463.6,864.2 L1464.7,864.9 L1465.8,865.7 L1466.9,866.4 L1468.1,867.2 L1469.2,867.9 L1470.3,868.6 L1471.4,869.3 L1472.5,870.0 L1473.7,870.7 L1474.8,871.4 L1475.9,872.1 L1477.1,872.8 L1478.2,873.5 L1479.4,874.1 L1480.5,874.8 L1481.7,875.5 L1482.9,876.1 L1484.0,876.7 L1484.8,877.1 L1567.0,802.9 Z"/></clipPath>
<g clip-path="url(#bclip)"><path d="M1493.9,650.8 L1491.5,648.6 L1489.2,646.4 L1486.9,644.1 L1484.7,641.8 L1482.5,639.5 L1480.3,637.1 L1478.1,634.7 L1476.0,632.3 L1473.9,629.8 L1471.8,627.3 L1469.7,624.8 L1467.7,622.3 L1465.7,619.7 L1463.7,617.1 L1461.8,614.5 L1459.9,611.9 L1458.0,609.2 L1456.1,606.6 L1454.2,603.9 L1452.4,601.2 L1450.6,598.5 L1448.8,595.8 L1447.0,593.1 L1445.3,590.4 L1443.5,587.7 L1441.8,584.9 L1440.1,582.2 L1438.3,579.5 L1436.6,576.7 L1435.0,574.0 L1433.3,571.3 L1431.6,568.5 L1429.9,565.8 L1428.3,563.1 L1426.6,560.4 L1424.9,557.7 L1423.3,555.0 L1421.6,552.3 L1419.9,549.7 L1418.3,547.0" fill="none" stroke="#1a1a1a" stroke-width="1.4"/><path d="M1503.5,631.7 L1501.5,629.4 L1499.4,627.1 L1497.4,624.8 L1495.4,622.5 L1493.4,620.1 L1491.4,617.7 L1489.5,615.3 L1487.6,612.9 L1485.7,610.4 L1483.9,607.9 L1482.1,605.4 L1480.3,602.8 L1478.5,600.3 L1476.7,597.7 L1475.0,595.1 L1473.3,592.5 L1471.6,589.9 L1469.9,587.2 L1468.3,584.5 L1466.7,581.9 L1465.1,579.1 L1463.5,576.4 L1462.0,573.7 L1460.5,570.9 L1459.0,568.2 L1457.5,565.4 L1456.0,562.6 L1454.6,559.8 L1453.1,557.0 L1451.7,554.2 L1450.4,551.3 L1449.0,548.5 L1447.6,545.6 L1446.3,542.7 L1445.0,539.8 L1443.7,537.0 L1442.4,534.1 L1441.2,531.2 L1439.9,528.2 L1438.7,525.3" fill="none" stroke="#1a1a1a" stroke-width="1.4"/><path d="M1556.6,590.9 L1556.9,587.7 L1557.2,584.5 L1557.5,581.3 L1557.9,578.1 L1558.4,574.9 L1558.8,571.7 L1559.4,568.5 L1560.0,565.3 L1560.6,562.1 L1561.2,558.9 L1561.9,555.8 L1562.6,552.6 L1563.4,549.4 L1564.2,546.3 L1565.0,543.1 L1565.9,540.0 L1566.8,536.9 L1567.7,533.7 L1568.6,530.6 L1569.6,527.5 L1570.5,524.4 L1571.5,521.3 L1572.5,518.2 L1573.6,515.2 L1574.6,512.1 L1575.7,509.0 L1576.7,506.0 L1577.8,503.0 L1578.9,499.9 L1580.0,496.9 L1581.0,493.9 L1582.1,490.9 L1583.2,487.9 L1584.3,484.9 L1585.4,481.9 L1586.5,478.9 L1587.5,475.9 L1588.6,473.0 L1589.6,470.0 L1590.7,467.0" fill="none" stroke="#1a1a1a" stroke-width="1.4"/><path d="M1577.6,586.5 L1578.1,583.5 L1578.6,580.4 L1579.1,577.4 L1579.7,574.4 L1580.3,571.3 L1581.0,568.3 L1581.7,565.3 L1582.4,562.3 L1583.2,559.3 L1584.0,556.3 L1584.8,553.3 L1585.7,550.3 L1586.5,547.3 L1587.5,544.4 L1588.4,541.4 L1589.4,538.4 L1590.4,535.5 L1591.4,532.5 L1592.5,529.6 L1593.6,526.6 L1594.7,523.7 L1595.9,520.8 L1597.0,517.8 L1598.2,514.9 L1599.5,512.0 L1600.7,509.1 L1602.0,506.3 L1603.3,503.4 L1604.6,500.5 L1605.9,497.6 L1607.3,494.8 L1608.7,492.0 L1610.1,489.1 L1611.5,486.3 L1612.9,483.5 L1614.4,480.7 L1615.8,477.8 L1617.3,475.0 L1618.8,472.3 L1620.4,469.5" fill="none" stroke="#1a1a1a" stroke-width="1.4"/><path d="M1642.6,602.6 L1645.3,600.8 L1648.0,599.0 L1650.7,597.3 L1653.4,595.6 L1656.2,593.9 L1659.0,592.3 L1661.8,590.7 L1664.7,589.2 L1667.6,587.7 L1670.5,586.2 L1673.4,584.8 L1676.3,583.4 L1679.2,582.0 L1682.2,580.7 L1685.2,579.4 L1688.2,578.1 L1691.2,576.8 L1694.2,575.6 L1697.2,574.4 L1700.2,573.2 L1703.3,572.0 L1706.3,570.8 L1709.3,569.7 L1712.4,568.6 L1715.4,567.5 L1718.5,566.4 L1721.5,565.3 L1724.6,564.3 L1727.6,563.2 L1730.6,562.2 L1733.7,561.2 L1736.7,560.1 L1739.7,559.1 L1742.7,558.1 L1745.8,557.1 L1748.8,556.1 L1751.8,555.0 L1754.7,554.0 L1757.7,553.0 L1760.7,551.9" fill="none" stroke="#1a1a1a" stroke-width="1.4"/><path d="M1659.1,616.2 L1661.8,614.7 L1664.5,613.2 L1667.2,611.8 L1669.9,610.3 L1672.7,608.9 L1675.4,607.6 L1678.2,606.2 L1681.0,604.9 L1683.9,603.6 L1686.7,602.4 L1689.6,601.1 L1692.4,600.0 L1695.3,598.8 L1698.2,597.7 L1701.1,596.5 L1704.1,595.5 L1707.0,594.4 L1710.0,593.4 L1712.9,592.4 L1715.9,591.4 L1718.9,590.4 L1721.9,589.5 L1724.9,588.6 L1727.9,587.7 L1731.0,586.9 L1734.0,586.1 L1737.1,585.3 L1740.1,584.5 L1743.2,583.7 L1746.3,583.0 L1749.3,582.3 L1752.4,581.6 L1755.5,580.9 L1758.6,580.2 L1761.7,579.6 L1764.8,579.0 L1767.9,578.4 L1771.0,577.8 L1774.1,577.2 L1777.3,576.7" fill="none" stroke="#1a1a1a" stroke-width="1.4"/><path d="M1687.1,677.1 L1690.2,678.0 L1693.2,679.0 L1696.3,680.1 L1699.3,681.2 L1702.3,682.3 L1705.3,683.5 L1708.3,684.7 L1711.3,686.0 L1714.3,687.3 L1717.2,688.7 L1720.2,690.0 L1723.1,691.5 L1726.0,692.9 L1728.9,694.4 L1731.8,695.9 L1734.7,697.4 L1737.5,699.0 L1740.4,700.6 L1743.2,702.2 L1746.0,703.8 L1748.8,705.4 L1751.6,707.1 L1754.4,708.8 L1757.1,710.4 L1759.9,712.1 L1762.7,713.8 L1765.4,715.5 L1768.1,717.3 L1770.8,719.0 L1773.5,720.7 L1776.2,722.5 L1778.9,724.2 L1781.6,725.9 L1784.3,727.6 L1787.0,729.3 L1789.6,731.1 L1792.3,732.8 L1795.0,734.5 L1797.6,736.1 L1800.3,737.8" fill="none" stroke="#1a1a1a" stroke-width="1.4"/><path d="M1686.7,698.5 L1689.6,699.6 L1692.4,700.8 L1695.2,702.0 L1698.1,703.3 L1700.9,704.5 L1703.7,705.8 L1706.5,707.2 L1709.2,708.6 L1712.0,710.0 L1714.7,711.4 L1717.5,712.9 L1720.2,714.4 L1722.9,715.9 L1725.6,717.5 L1728.3,719.1 L1731.0,720.7 L1733.6,722.3 L1736.3,724.0 L1738.9,725.7 L1741.5,727.4 L1744.1,729.2 L1746.7,730.9 L1749.3,732.7 L1751.9,734.5 L1754.4,736.4 L1757.0,738.2 L1759.5,740.1 L1762.0,742.0 L1764.5,743.9 L1767.0,745.9 L1769.5,747.8 L1772.0,749.8 L1774.4,751.8 L1776.9,753.8 L1779.3,755.9 L1781.7,757.9 L1784.1,760.0 L1786.5,762.0 L1788.9,764.1 L1791.3,766.2" fill="none" stroke="#1a1a1a" stroke-width="1.4"/><path d="M1656.6,758.3 L1657.7,761.3 L1658.9,764.3 L1659.9,767.3 L1661.0,770.4 L1662.0,773.5 L1662.9,776.6 L1663.8,779.7 L1664.7,782.8 L1665.5,785.9 L1666.3,789.1 L1667.1,792.2 L1667.8,795.4 L1668.5,798.6 L1669.1,801.8 L1669.7,805.0 L1670.3,808.2 L1670.9,811.4 L1671.4,814.6 L1671.9,817.8 L1672.4,821.0 L1672.9,824.2 L1673.3,827.4 L1673.8,830.7 L1674.2,833.9 L1674.6,837.1 L1674.9,840.3 L1675.3,843.5 L1675.7,846.7 L1676.0,849.9 L1676.3,853.1 L1676.7,856.3 L1677.0,859.5 L1677.3,862.6 L1677.7,865.8 L1678.0,869.0 L1678.3,872.1 L1678.6,875.3 L1679.0,878.4 L1679.3,881.5 L1679.7,884.7" fill="none" stroke="#1a1a1a" stroke-width="1.4"/><path d="M1639.6,771.4 L1640.5,774.3 L1641.3,777.3 L1642.2,780.2 L1642.9,783.2 L1643.7,786.2 L1644.4,789.2 L1645.1,792.2 L1645.8,795.2 L1646.4,798.3 L1647.0,801.3 L1647.5,804.4 L1648.0,807.4 L1648.5,810.5 L1649.0,813.6 L1649.4,816.7 L1649.8,819.8 L1650.2,822.9 L1650.5,826.0 L1650.9,829.1 L1651.2,832.2 L1651.4,835.4 L1651.6,838.5 L1651.9,841.6 L1652.0,844.8 L1652.2,847.9 L1652.3,851.1 L1652.4,854.2 L1652.5,857.4 L1652.6,860.5 L1652.6,863.7 L1652.6,866.9 L1652.6,870.0 L1652.6,873.2 L1652.5,876.3 L1652.5,879.5 L1652.4,882.7 L1652.3,885.8 L1652.1,889.0 L1652.0,892.2 L1651.8,895.3" fill="none" stroke="#1a1a1a" stroke-width="1.4"/><path d="M1574.0,785.1 L1572.4,787.9 L1570.8,790.6 L1569.1,793.4 L1567.3,796.1 L1565.5,798.8 L1563.7,801.4 L1561.9,804.1 L1560.0,806.7 L1558.0,809.3 L1556.0,811.9 L1554.0,814.4 L1552.0,817.0 L1550.0,819.5 L1547.9,822.0 L1545.8,824.5 L1543.6,826.9 L1541.5,829.4 L1539.3,831.8 L1537.1,834.2 L1534.9,836.6 L1532.7,838.9 L1530.4,841.3 L1528.2,843.6 L1525.9,846.0 L1523.7,848.3 L1521.4,850.6 L1519.1,852.9 L1516.8,855.1 L1514.5,857.4 L1512.3,859.6 L1510.0,861.9 L1507.7,864.1 L1505.4,866.4 L1503.1,868.6 L1500.9,870.8 L1498.6,873.0 L1496.3,875.3 L1494.1,877.5 L1491.9,879.7 L1489.6,881.9" fill="none" stroke="#1a1a1a" stroke-width="1.4"/><path d="M1553.2,779.9 L1551.5,782.5 L1549.7,785.0 L1547.9,787.5 L1546.1,789.9 L1544.2,792.4 L1542.3,794.8 L1540.4,797.3 L1538.4,799.7 L1536.4,802.0 L1534.4,804.4 L1532.4,806.7 L1530.3,809.1 L1528.2,811.4 L1526.1,813.6 L1523.9,815.9 L1521.8,818.2 L1519.6,820.4 L1517.3,822.6 L1515.1,824.8 L1512.8,827.0 L1510.6,829.1 L1508.3,831.2 L1505.9,833.4 L1503.6,835.5 L1501.2,837.5 L1498.9,839.6 L1496.5,841.7 L1494.0,843.7 L1491.6,845.7 L1489.2,847.7 L1486.7,849.7 L1484.2,851.6 L1481.7,853.6 L1479.2,855.5 L1476.7,857.4 L1474.2,859.4 L1471.6,861.2 L1469.1,863.1 L1466.5,865.0 L1464.0,866.8" fill="none" stroke="#1a1a1a" stroke-width="1.4"/><path d="M1501.6,737.2 L1498.5,737.7 L1495.3,738.2 L1492.1,738.5 L1488.9,738.9 L1485.7,739.1 L1482.4,739.4 L1479.2,739.6 L1476.0,739.7 L1472.7,739.8 L1469.5,739.9 L1466.2,739.9 L1463.0,739.9 L1459.7,739.9 L1456.5,739.8 L1453.2,739.7 L1450.0,739.6 L1446.7,739.4 L1443.5,739.2 L1440.2,739.0 L1437.0,738.8 L1433.7,738.5 L1430.5,738.2 L1427.3,737.9 L1424.0,737.6 L1420.8,737.3 L1417.6,736.9 L1414.4,736.6 L1411.2,736.2 L1408.0,735.8 L1404.8,735.4 L1401.6,735.0 L1398.5,734.7 L1395.3,734.3 L1392.1,733.9 L1389.0,733.5 L1385.8,733.1 L1382.7,732.7 L1379.6,732.4 L1376.4,732.0 L1373.3,731.6" fill="none" stroke="#1a1a1a" stroke-width="1.4"/><path d="M1492.7,717.8 L1489.6,718.0 L1486.6,718.2 L1483.5,718.3 L1480.4,718.4 L1477.3,718.5 L1474.2,718.5 L1471.1,718.5 L1468.0,718.5 L1464.9,718.4 L1461.8,718.3 L1458.7,718.2 L1455.6,718.0 L1452.5,717.8 L1449.4,717.6 L1446.3,717.3 L1443.2,717.0 L1440.1,716.7 L1437.0,716.3 L1433.9,715.9 L1430.8,715.5 L1427.6,715.1 L1424.5,714.6 L1421.4,714.1 L1418.3,713.6 L1415.2,713.0 L1412.1,712.5 L1409.0,711.9 L1405.9,711.3 L1402.9,710.6 L1399.8,709.9 L1396.7,709.3 L1393.6,708.5 L1390.5,707.8 L1387.5,707.1 L1384.4,706.3 L1381.3,705.5 L1378.3,704.7 L1375.2,703.9 L1372.1,703.0 L1369.1,702.1" fill="none" stroke="#1a1a1a" stroke-width="1.4"/></g>
<g clip-path="url(#wclip)"><circle cx="1587.5" cy="686.0" r="221.5" fill="none" stroke="#1a1a1a" stroke-width="1.4"/><path d="M1440.1,526.8 L1442.1,524.9 L1444.1,523.1 L1446.2,521.3 L1448.3,519.5 L1450.5,517.8 L1452.6,516.0 L1454.8,514.3 L1457.0,512.7 L1459.2,511.0 L1461.4,509.4 L1463.7,507.8 L1465.9,506.3 L1468.2,504.7 L1470.5,503.2 L1472.9,501.8 L1475.2,500.3 L1477.6,498.9 L1479.9,497.5 L1482.3,496.2 L1484.8,494.9 L1487.2,493.6 L1489.6,492.3 L1492.1,491.1 L1494.6,489.9 L1497.1,488.7 L1499.6,487.6 L1502.1,486.5 L1504.7,485.4 L1507.2,484.4 L1509.8,483.4 L1512.4,482.4 L1515.0,481.5 L1517.6,480.6 L1520.2,479.7 L1522.8,478.9 L1525.4,478.1 L1528.1,477.3 L1530.7,476.6 L1533.4,475.9 L1536.1,475.2 L1538.7,474.6 L1541.4,473.9 L1544.1,473.4 L1546.8,472.8 L1549.5,472.3 L1552.2,471.9 L1555.0,471.5 L1557.7,471.1 L1560.4,470.7 L1563.1,470.4 L1565.9,470.1 L1568.6,469.8 L1571.4,469.6 L1574.1,469.4 L1576.9,469.3 L1579.6,469.1 L1582.4,469.1 L1585.1,469.0 L1587.9,469.0 L1590.6,469.0" fill="none" stroke="#1a1a1a" stroke-width="1.4"/><path d="M1620.1,471.5 L1622.8,471.9 L1625.5,472.4 L1628.2,472.9 L1630.9,473.4 L1633.6,474.0 L1636.3,474.6 L1639.0,475.2 L1641.6,475.9 L1644.3,476.6 L1646.9,477.3 L1649.6,478.1 L1652.2,478.9 L1654.8,479.7 L1657.5,480.6 L1660.1,481.5 L1662.7,482.4 L1665.2,483.4 L1667.8,484.4 L1670.3,485.4 L1672.9,486.5 L1675.4,487.6 L1677.9,488.7 L1680.4,489.9 L1682.9,491.1 L1685.4,492.3 L1687.8,493.6 L1690.2,494.9 L1692.7,496.2 L1695.1,497.5 L1697.4,498.9 L1699.8,500.3 L1702.2,501.8 L1704.5,503.2 L1706.8,504.7 L1709.1,506.3 L1711.4,507.8 L1713.6,509.4 L1715.8,511.0 L1718.1,512.7 L1720.2,514.3 L1722.4,516.0 L1724.6,517.8 L1726.7,519.5 L1728.8,521.3 L1730.9,523.1 L1732.9,524.9 L1735.0,526.8 L1737.0,528.7 L1738.9,530.6 L1740.9,532.5 L1742.8,534.5 L1744.7,536.5 L1746.6,538.5 L1748.5,540.5 L1750.3,542.6 L1752.1,544.6 L1753.9,546.7 L1755.7,548.9 L1757.4,551.0 L1759.1,553.2" fill="none" stroke="#1a1a1a" stroke-width="1.4"/><path d="M1775.5,577.7 L1776.9,580.1 L1778.2,582.5 L1779.5,584.9 L1780.8,587.4 L1782.0,589.8 L1783.2,592.3 L1784.4,594.8 L1785.5,597.3 L1786.7,599.8 L1787.7,602.4 L1788.8,604.9 L1789.8,607.5 L1790.8,610.0 L1791.7,612.6 L1792.6,615.2 L1793.5,617.8 L1794.4,620.5 L1795.2,623.1 L1796.0,625.7 L1796.7,628.4 L1797.4,631.0 L1798.1,633.7 L1798.8,636.4 L1799.4,639.1 L1799.9,641.8 L1800.5,644.5 L1801.0,647.2 L1801.5,649.9 L1801.9,652.6 L1802.3,655.3 L1802.7,658.0 L1803.0,660.8 L1803.3,663.5 L1803.6,666.3 L1803.8,669.0 L1804.0,671.7 L1804.2,674.5 L1804.3,677.2 L1804.4,680.0 L1804.5,682.8 L1804.5,685.5 L1804.5,688.3 L1804.4,691.0 L1804.4,693.8 L1804.2,696.5 L1804.1,699.3 L1803.9,702.0 L1803.7,704.8 L1803.4,707.5 L1803.1,710.2 L1802.8,713.0 L1802.5,715.7 L1802.1,718.4 L1801.6,721.2 L1801.2,723.9 L1800.7,726.6 L1800.1,729.3 L1799.6,732.0 L1799.0,734.7 L1798.3,737.3" fill="none" stroke="#1a1a1a" stroke-width="1.4"/><path d="M1789.4,765.5 L1788.4,768.0 L1787.3,770.6 L1786.2,773.1 L1785.1,775.6 L1784.0,778.1 L1782.8,780.6 L1781.6,783.1 L1780.3,785.5 L1779.0,788.0 L1777.7,790.4 L1776.4,792.8 L1775.0,795.2 L1773.6,797.6 L1772.2,799.9 L1770.7,802.3 L1769.2,804.6 L1767.7,806.9 L1766.2,809.1 L1764.6,811.4 L1763.0,813.6 L1761.4,815.9 L1759.7,818.0 L1758.0,820.2 L1756.3,822.4 L1754.5,824.5 L1752.8,826.6 L1751.0,828.7 L1749.2,830.8 L1747.3,832.8 L1745.4,834.8 L1743.5,836.8 L1741.6,838.8 L1739.6,840.7 L1737.7,842.6 L1735.7,844.5 L1733.6,846.4 L1731.6,848.2 L1729.5,850.1 L1727.4,851.9 L1725.3,853.6 L1723.2,855.4 L1721.0,857.1 L1718.8,858.7 L1716.6,860.4 L1714.4,862.0 L1712.2,863.6 L1709.9,865.2 L1707.6,866.7 L1705.3,868.2 L1703.0,869.7 L1700.7,871.2 L1698.3,872.6 L1695.9,874.0 L1693.5,875.3 L1691.1,876.7 L1688.7,878.0 L1686.2,879.2 L1683.8,880.5 L1681.3,881.7 L1678.8,882.9" fill="none" stroke="#1a1a1a" stroke-width="1.4"/><path d="M1651.3,893.4 L1648.6,894.2 L1646.0,895.0 L1643.3,895.7 L1640.6,896.4 L1638.0,897.0 L1635.3,897.7 L1632.6,898.3 L1629.9,898.8 L1627.2,899.3 L1624.5,899.8 L1621.8,900.3 L1619.1,900.7 L1616.3,901.1 L1613.6,901.4 L1610.9,901.7 L1608.1,902.0 L1605.4,902.3 L1602.6,902.5 L1599.9,902.6 L1597.1,902.8 L1594.4,902.9 L1591.6,903.0 L1588.9,903.0 L1586.1,903.0 L1583.4,903.0 L1580.6,902.9 L1577.9,902.8 L1575.1,902.6 L1572.4,902.5 L1569.6,902.3 L1566.9,902.0 L1564.1,901.7 L1561.4,901.4 L1558.7,901.1 L1555.9,900.7 L1553.2,900.3 L1550.5,899.8 L1547.8,899.3 L1545.1,898.8 L1542.4,898.3 L1539.7,897.7 L1537.0,897.0 L1534.3,896.4 L1531.7,895.7 L1529.0,895.0 L1526.4,894.2 L1523.7,893.4 L1521.1,892.6 L1518.5,891.7 L1515.9,890.8 L1513.3,889.9 L1510.7,889.0 L1508.1,888.0 L1505.6,886.9 L1503.0,885.9 L1500.5,884.8 L1498.0,883.7 L1495.5,882.5 L1493.0,881.3 L1490.5,880.1" fill="none" stroke="#1a1a1a" stroke-width="1.4"/><path d="M1465.1,865.2 L1462.8,863.6 L1460.6,862.0 L1458.3,860.4 L1456.1,858.7 L1454.0,857.0 L1451.8,855.3 L1449.7,853.6 L1447.6,851.8 L1445.5,850.1 L1443.4,848.2 L1441.3,846.4 L1439.3,844.5 L1437.3,842.6 L1435.3,840.7 L1433.4,838.8 L1431.5,836.8 L1429.6,834.8 L1427.7,832.8 L1425.8,830.8 L1424.0,828.7 L1422.2,826.6 L1420.4,824.5 L1418.7,822.4 L1417.0,820.2 L1415.3,818.0 L1413.6,815.8 L1412.0,813.6 L1410.4,811.4 L1408.8,809.1 L1407.3,806.9 L1405.7,804.6 L1404.3,802.2 L1402.8,799.9 L1401.4,797.5 L1400.0,795.2 L1398.6,792.8 L1397.3,790.4 L1395.9,788.0 L1394.7,785.5 L1393.4,783.1 L1392.2,780.6 L1391.0,778.1 L1389.9,775.6 L1388.7,773.1 L1387.7,770.6 L1386.6,768.0 L1385.6,765.5 L1384.6,762.9 L1383.6,760.3 L1382.7,757.7 L1381.8,755.1 L1380.9,752.5 L1380.1,749.9 L1379.3,747.2 L1378.6,744.6 L1377.8,741.9 L1377.1,739.3 L1376.5,736.6 L1375.9,733.9 L1375.3,731.2" fill="none" stroke="#1a1a1a" stroke-width="1.4"/><path d="M1371.1,702.0 L1370.9,699.3 L1370.8,696.5 L1370.6,693.8 L1370.6,691.0 L1370.5,688.2 L1370.5,685.5 L1370.5,682.7 L1370.6,680.0 L1370.7,677.2 L1370.8,674.5 L1371.0,671.7 L1371.2,669.0 L1371.4,666.2 L1371.7,663.5 L1372.0,660.8 L1372.3,658.0 L1372.7,655.3 L1373.1,652.6 L1373.5,649.9 L1374.0,647.1 L1374.5,644.4 L1375.1,641.7 L1375.6,639.0 L1376.3,636.4 L1376.9,633.7 L1377.6,631.0 L1378.3,628.4 L1379.0,625.7 L1379.8,623.1 L1380.6,620.4 L1381.5,617.8 L1382.4,615.2 L1383.3,612.6 L1384.2,610.0 L1385.2,607.5 L1386.2,604.9 L1387.3,602.3 L1388.4,599.8 L1389.5,597.3 L1390.6,594.8 L1391.8,592.3 L1393.0,589.8 L1394.2,587.4 L1395.5,584.9 L1396.8,582.5 L1398.1,580.1 L1399.5,577.7 L1400.9,575.3 L1402.3,572.9 L1403.7,570.6 L1405.2,568.3 L1406.7,566.0 L1408.3,563.7 L1409.8,561.4 L1411.4,559.2 L1413.0,556.9 L1414.7,554.7 L1416.4,552.6 L1418.1,550.4 L1419.8,548.3" fill="none" stroke="#1a1a1a" stroke-width="1.4"/></g>
<path d="M1595.2,566.7 L1594.0,567.9 L1593.2,569.3 L1592.7,570.7 L1592.6,572.5 L1592.9,574.1 L1593.6,575.7 L1594.6,577.0 L1595.9,578.1 L1598.1,579.0 L1607.8,580.4 L1616.8,582.6 L1624.9,585.2 L1632.9,588.5 L1641.1,592.8 L1648.9,597.7 L1656.2,603.3 L1663.0,609.5 L1668.5,615.3 L1673.8,621.9 L1678.3,628.5 L1682.9,636.2 L1799.3,778.3 L1801.5,780.0 L1802.8,780.5 L1804.4,780.7 L1807.1,780.2 L1809.5,778.6 L1811.0,776.3 L1811.5,773.7 L1811.4,575.4 L1810.9,573.8 L1809.4,570.9 L1802.7,558.8 L1797.0,549.7 L1791.0,540.8 L1784.6,532.2 L1777.8,523.9 L1770.7,515.8 L1763.2,508.2 L1756.5,501.8 L1748.4,494.7 L1740.1,488.0 L1731.5,481.6 L1718.5,473.1 L1715.8,472.4 L1713.1,472.8 L1711.0,474.0 L1595.2,566.7 Z M1624.3,787.8 L1622.1,790.8 L1496.7,897.9 L1495.1,900.1 L1494.5,902.7 L1494.9,905.4 L1496.4,907.8 L1497.6,908.8 L1498.8,909.5 L1501.5,910.0 L1696.8,910.0 L1698.4,909.8 L1700.0,909.2 L1708.0,905.0 L1720.0,898.0 L1731.5,890.4 L1742.5,882.2 L1753.1,873.3 L1763.2,863.9 L1774.8,851.6 L1777.2,848.8 L1778.3,846.9 L1778.6,845.2 L1778.6,843.5 L1778.1,841.8 L1777.3,840.3 L1696.3,731.6 L1694.8,730.1 L1693.0,729.2 L1691.0,728.7 L1689.0,728.9 L1687.1,729.7 L1685.5,731.0 L1684.5,732.3 L1679.0,742.4 L1673.1,751.1 L1665.8,759.6 L1657.7,767.4 L1651.6,772.3 L1645.6,776.5 L1636.4,781.7 L1625.9,786.5 L1624.3,787.8 Z M1375.8,553.0 L1374.9,555.0 L1374.7,557.3 L1375.2,559.3 L1376.3,561.2 L1468.8,675.5 L1470.3,676.8 L1472.0,677.6 L1474.0,677.9 L1475.8,677.6 L1477.3,677.0 L1478.5,676.2 L1479.6,675.0 L1480.4,673.7 L1480.9,672.2 L1481.9,665.7 L1483.4,659.3 L1485.0,653.6 L1487.0,647.9 L1489.5,641.9 L1492.4,635.9 L1495.6,630.2 L1498.6,625.6 L1679.8,474.4 L1681.1,472.9 L1682.0,471.0 L1682.3,469.3 L1682.1,467.2 L1681.1,465.1 L1679.5,463.4 L1677.6,462.4 L1675.3,462.0 L1478.2,462.0 L1476.2,462.3 L1471.0,464.8 L1462.9,469.2 L1455.0,474.0 L1447.3,479.0 L1433.7,488.9 L1426.5,494.7 L1419.6,500.7 L1407.5,512.5 L1396.2,525.1 L1385.8,538.3 L1380.5,545.8 L1375.8,553.0 Z M1363.5,597.7 L1363.6,796.7 L1364.1,798.2 L1367.8,805.2 L1373.1,814.5 L1379.6,824.9 L1384.9,832.5 L1390.4,839.8 L1396.2,847.0 L1403.3,855.0 L1409.7,861.7 L1416.2,868.1 L1424.2,875.3 L1431.3,881.2 L1441.1,888.6 L1451.1,895.5 L1455.3,898.1 L1458.1,898.7 L1460.8,898.2 L1462.8,896.9 L1567.0,802.9 L1568.7,800.6 L1569.1,799.3 L1569.3,797.7 L1569.1,796.0 L1568.5,794.4 L1567.4,792.9 L1566.1,791.8 L1564.5,791.0 L1556.3,788.9 L1548.8,786.3 L1542.1,783.5 L1535.1,779.9 L1528.4,775.8 L1521.9,771.2 L1515.8,766.1 L1510.1,760.6 L1505.7,755.7 L1502.0,751.1 L1498.5,746.3 L1494.3,739.7 L1376.0,593.6 L1374.9,592.6 L1373.6,591.7 L1372.2,591.2 L1370.6,591.0 L1368.1,591.4 L1365.8,592.9 L1364.2,595.1 L1363.5,597.7 Z" fill="none" stroke="#1a1a1a" stroke-width="1.5"/>
<line x1="1708.0" y1="699.0" x2="1809.5" y2="822.0" stroke="#1a1a1a" stroke-width="1.2"/><line x1="1691.5" y1="697.5" x2="1809.5" y2="826.0" stroke="#1a1a1a" stroke-width="1.2"/><line x1="1690.5" y1="701.0" x2="1809.5" y2="829.5" stroke="#1a1a1a" stroke-width="1.2"/><line x1="1690.3" y1="705.0" x2="1809.5" y2="833.0" stroke="#1a1a1a" stroke-width="1.2"/><line x1="1690.3" y1="709.0" x2="1809.5" y2="836.5" stroke="#1a1a1a" stroke-width="1.2"/><line x1="1690.3" y1="713.0" x2="1809.5" y2="840.0" stroke="#1a1a1a" stroke-width="1.2"/><line x1="1690.3" y1="717.0" x2="1809.5" y2="843.5" stroke="#1a1a1a" stroke-width="1.2"/><line x1="1690.3" y1="721.0" x2="1809.5" y2="847.0" stroke="#1a1a1a" stroke-width="1.2"/><line x1="1700.5" y1="736.0" x2="1809.5" y2="851.0" stroke="#1a1a1a" stroke-width="1.2"/><line x1="1700.2" y1="740.0" x2="1809.5" y2="855.0" stroke="#1a1a1a" stroke-width="1.2"/><line x1="1700.0" y1="744.0" x2="1809.5" y2="859.0" stroke="#1a1a1a" stroke-width="1.2"/>
<path d="M1690,722 C1689.5,702 1693,690.5 1699,690.5 C1704.5,690.5 1707.5,694.5 1708,699" fill="none" stroke="#1a1a1a" stroke-width="1.3"/>
<path d="M1696,702 L1707,703 L1707,717" fill="none" stroke="#444" stroke-width="1.1"/>
<path d="M1699.5,745 C1697.5,741 1698.5,734.5 1702,733.5" fill="none" stroke="#1a1a1a" stroke-width="1.3"/>
<circle cx="1587.5" cy="686.0" r="100" fill="none" stroke="#1a1a1a" stroke-width="1.5"/>
<path d="M1381.5,453.0 H1793.5 A27,27 0 0 1 1820.5,480.0 V892.0 A27,27 0 0 1 1793.5,919.0 H1381.5 A27,27 0 0 1 1354.5,892.0 V480.0 A27,27 0 0 1 1381.5,453.0 Z" fill="none" stroke="#333" stroke-width="1.7"/>
<line x1="1354.5" y1="480.0" x2="1354.5" y2="892.0" stroke="#8a8a8a" stroke-width="2.2" /><line x1="1820.5" y1="480.0" x2="1820.5" y2="892.0" stroke="#8a8a8a" stroke-width="2.2" />
<rect x="1819.0" y="824.5" width="3" height="14" fill="#fff"/>
<line x1="1810.0" y1="824.0" x2="1820.0" y2="824.0" stroke="#777" stroke-width="1.3" /><line x1="1810.0" y1="833.0" x2="1820.0" y2="833.0" stroke="#777" stroke-width="1.3" /><line x1="1810.0" y1="833.0" x2="1810.0" y2="838.0" stroke="#777" stroke-width="1.3" />
<circle cx="1382.5" cy="481.0" r="14.5" fill="none" stroke="#1a1a1a" stroke-width="1.4"/>
<circle cx="1382.5" cy="481.0" r="20.3" fill="none" stroke="#777" stroke-width="1.2" stroke-dasharray="5 2.5"/>
<line x1="1356.0" y1="481.0" x2="1409.0" y2="481.0" stroke="#666" stroke-width="1.3" />
<line x1="1382.5" y1="454.5" x2="1382.5" y2="507.5" stroke="#aaa" stroke-width="2.2" />
<circle cx="1382.5" cy="891.0" r="14.5" fill="none" stroke="#1a1a1a" stroke-width="1.4"/>
<circle cx="1382.5" cy="891.0" r="20.3" fill="none" stroke="#777" stroke-width="1.2" stroke-dasharray="5 2.5"/>
<line x1="1356.0" y1="891.0" x2="1409.0" y2="891.0" stroke="#666" stroke-width="1.3" />
<line x1="1382.5" y1="864.5" x2="1382.5" y2="917.5" stroke="#aaa" stroke-width="2.2" />
<circle cx="1792.5" cy="481.0" r="14.5" fill="none" stroke="#1a1a1a" stroke-width="1.4"/>
<circle cx="1792.5" cy="481.0" r="20.3" fill="none" stroke="#777" stroke-width="1.2" stroke-dasharray="5 2.5"/>
<line x1="1766.0" y1="481.0" x2="1819.0" y2="481.0" stroke="#666" stroke-width="1.3" />
<line x1="1792.5" y1="454.5" x2="1792.5" y2="507.5" stroke="#aaa" stroke-width="2.2" />
<circle cx="1792.5" cy="891.0" r="14.5" fill="none" stroke="#1a1a1a" stroke-width="1.4"/>
<circle cx="1792.5" cy="891.0" r="20.3" fill="none" stroke="#777" stroke-width="1.2" stroke-dasharray="5 2.5"/>
<line x1="1766.0" y1="891.0" x2="1819.0" y2="891.0" stroke="#666" stroke-width="1.3" />
<line x1="1792.5" y1="864.5" x2="1792.5" y2="917.5" stroke="#aaa" stroke-width="2.2" />
<line x1="1347.5" y1="686.0" x2="1827.5" y2="686.0" stroke="#b4b4b4" stroke-width="3" />
<line x1="1587.5" y1="443.0" x2="1587.5" y2="922.0" stroke="#444" stroke-width="1.4" />
<line x1="1240.4" y1="452.9" x2="1380.0" y2="452.9" stroke="#222" stroke-width="1.6" />
<line x1="1240.4" y1="918.8" x2="1380.0" y2="918.8" stroke="#222" stroke-width="1.6" />
<line x1="1249.1" y1="455.0" x2="1249.1" y2="917.0" stroke="#222" stroke-width="1.5" />
<path d="M1249.1,453.5 L1253.1,474.5 L1245.1,474.5 Z" fill="#1a1a1a"/>
<path d="M1249.1,918.3 L1245.1,897.3 L1253.1,897.3 Z" fill="#1a1a1a"/>
<line x1="1294.0" y1="480.9" x2="1350.0" y2="480.9" stroke="#222" stroke-width="1.5" />
<line x1="1294.0" y1="890.3" x2="1350.0" y2="890.3" stroke="#222" stroke-width="1.5" />
<line x1="1302.2" y1="483.0" x2="1302.2" y2="888.0" stroke="#888" stroke-width="1.8" />
<path d="M1302.2,481.5 L1306.2,501.5 L1298.2,501.5 Z" fill="#1a1a1a"/>
<path d="M1302.2,889.7 L1298.2,869.7 L1306.2,869.7 Z" fill="#1a1a1a"/>
<text transform="translate(1224.4,749.8) rotate(-90)" font-size="27.2" fill="#111" stroke="#111" stroke-width="0.4" text-anchor="start" textLength="129" lengthAdjust="spacing">70.00±0.50</text>
<text transform="translate(1293.7,749.3) rotate(-90)" font-size="27.2" fill="#111" stroke="#111" stroke-width="0.4" text-anchor="start" textLength="128.5" lengthAdjust="spacing">61.50±0.30</text>
<line x1="1119.0" y1="1011.5" x2="1286.0" y2="1011.5" stroke="#222" stroke-width="1.4" />
<line x1="1286.0" y1="1011.5" x2="1416.0" y2="848.6" stroke="#222" stroke-width="1.4" />
<path d="M1373.4,902.0 L1365.2,917.2 L1360.5,913.4 Z" fill="#1a1a1a"/>
<path d="M1392.2,878.6 L1400.4,863.4 L1405.1,867.2 Z" fill="#1a1a1a"/>
<text x="1124" y="1004.2" font-size="27.3" fill="#111" stroke="#111" stroke-width="0.4" text-anchor="start" textLength="134.5" lengthAdjust="spacing">Ø4.30±0.10</text>
<path d="M1820.0,863.5 L1847.5,886.6 A39.7,39.7 0 0 1 1822.0,956.7 L1372.5,956.7" fill="none" stroke="#222" stroke-width="1.5"/>
<path d="M1820.0,855.9 L1851.2,882.1 A45.5,45.5 0 0 1 1822.0,962.5 L1372.5,962.5" fill="none" stroke="#222" stroke-width="1.5"/>
<path d="M1820.0,850.2 L1854.1,878.8 A49.9,49.9 0 0 1 1822.0,966.9 L1372.5,966.9" fill="none" stroke="#222" stroke-width="1.5"/>
<path d="M1820.0,842.9 L1857.7,874.5 A55.5,55.5 0 0 1 1822.0,972.5 L1372.5,972.5" fill="none" stroke="#777" stroke-width="1.5"/>
<line x1="1372.5" y1="956.5" x2="1372.5" y2="973.0" stroke="#555" stroke-width="1.3" />
<line x1="1356.2" y1="959.8" x2="1372.5" y2="959.8" stroke="#666" stroke-width="2.2" />
<line x1="1356.2" y1="968.9" x2="1372.5" y2="968.9" stroke="#111" stroke-width="2.2" />
<path d="M1826.5,807.5 L1889.5,875.5 C1902,889 1913,908 1913.5,930 C1914,975 1881,1014 1843,1014 L1357,1014" fill="none" stroke="#555" stroke-width="1.5"/>
<path d="M1824.5,805.3 L1837.6,815.0 L1833.2,819.1 Z" fill="#1a1a1a"/>
<path d="M1356.0,1014.0 L1372.0,1011.0 L1372.0,1017.0 Z" fill="#1a1a1a"/>
<line x1="1354.9" y1="971.6" x2="1354.9" y2="1017.5" stroke="#222" stroke-width="1.5" />
<text x="1407.3" y="1009.4" font-size="29" fill="#111" stroke="#111" stroke-width="0.4" text-anchor="start" textLength="94" lengthAdjust="spacing">300±10</text>
<text x="1538" y="395.3" font-size="30" fill="#111" stroke="#111" stroke-width="0.4" text-anchor="start" textLength="104.5" lengthAdjust="spacing">Rotation</text>
<path d="M1524.6,415.2 Q1590,398 1650,413" fill="none" stroke="#222" stroke-width="1.6"/>
<path d="M1666.0,417.5 L1644.8,415.2 L1646.9,408.0 Z" fill="#1a1a1a"/>
<rect x="1965.1" y="453.0" width="165.9" height="465.6" fill="none" stroke="#222" stroke-width="1.6"/>
<line x1="1991.1" y1="453.0" x2="1991.1" y2="619.0" stroke="#222" stroke-width="1.6" />
<line x1="2104.0" y1="453.0" x2="2104.0" y2="619.0" stroke="#999" stroke-width="2.2" />
<line x1="1991.1" y1="509.7" x2="2104.0" y2="509.7" stroke="#999" stroke-width="2.2" />
<line x1="1991.1" y1="538.6" x2="2104.0" y2="538.6" stroke="#999" stroke-width="2.2" />
<line x1="1991.1" y1="554.6" x2="2104.0" y2="554.6" stroke="#222" stroke-width="1.6" />
<line x1="1991.1" y1="615.6" x2="2104.0" y2="615.6" stroke="#222" stroke-width="1.5" />
<line x1="1991.1" y1="618.9" x2="2104.0" y2="618.9" stroke="#333" stroke-width="1.5" />
<line x1="1991.1" y1="752.0" x2="1991.1" y2="918.6" stroke="#222" stroke-width="1.6" />
<line x1="2104.0" y1="752.0" x2="2104.0" y2="918.6" stroke="#999" stroke-width="2.2" />
<line x1="1991.1" y1="752.2" x2="2104.0" y2="752.2" stroke="#999" stroke-width="2.4" />
<line x1="1991.1" y1="756.5" x2="2104.0" y2="756.5" stroke="#222" stroke-width="1.6" />
<line x1="1991.1" y1="815.8" x2="2104.0" y2="815.8" stroke="#999" stroke-width="2.2" />
<line x1="1991.1" y1="832.9" x2="2104.0" y2="832.9" stroke="#222" stroke-width="1.7" />
<line x1="1991.1" y1="862.1" x2="2104.0" y2="862.1" stroke="#999" stroke-width="2.2" />
<line x1="1965.1" y1="825.4" x2="1991.1" y2="825.4" stroke="#999" stroke-width="2.2" /><line x1="2104.0" y1="825.4" x2="2131.0" y2="825.4" stroke="#999" stroke-width="2.2" />
<path d="M1991.1,833 H1976 L1972,835.5 L1965.1,838.5" fill="none" stroke="#888" stroke-width="1.8"/>
<path d="M2104.0,833 H2119 L2123,835.5 L2131.0,838.5" fill="none" stroke="#888" stroke-width="1.8"/>
<path d="M2017,686 L2027,680 L2027,683.5 L2041.5,683.5 L2041.5,689 L2027,689 L2027,692 Z" fill="none" stroke="#444" stroke-width="1.5"/>
<path d="M2061,700 L2054.5,687.5 L2058.5,687.5 L2058.5,675 L2064,675 L2064,687.5 L2068,687.5 Z" fill="none" stroke="#444" stroke-width="1.5"/>
<text x="2016.5" y="396" font-size="26.8" fill="#111" stroke="#111" stroke-width="0.4" text-anchor="start" textLength="83" lengthAdjust="spacing">Airflow</text>
<line x1="2000.0" y1="412.4" x2="2103.7" y2="412.4" stroke="#222" stroke-width="1.5" />
<path d="M1992.5,412.4 L2010.5,409.4 L2010.5,415.4 Z" fill="#1a1a1a"/>
<line x1="1965.1" y1="922.4" x2="1965.1" y2="986.7" stroke="#222" stroke-width="1.5" /><line x1="2131.0" y1="922.4" x2="2131.0" y2="986.7" stroke="#222" stroke-width="1.5" />
<line x1="1985.0" y1="981.9" x2="2112.0" y2="981.9" stroke="#999" stroke-width="2.2" />
<path d="M1966.0,981.9 L1987.0,978.4 L1987.0,985.4 Z" fill="#1a1a1a"/>
<path d="M2130.0,981.9 L2109.0,985.4 L2109.0,978.4 Z" fill="#1a1a1a"/>
<text x="1982.3" y="967.3" font-size="26.6" fill="#111" stroke="#111" stroke-width="0.4" text-anchor="start" textLength="130" lengthAdjust="spacing">25.00±0.50</text>
<text x="1984.5" y="1023.5" font-size="29.8" fill="#111" stroke="#111" stroke-width="0.4" text-anchor="start" textLength="141.5" lengthAdjust="spacing">unit in mm</text>
</svg>
</body></html>
